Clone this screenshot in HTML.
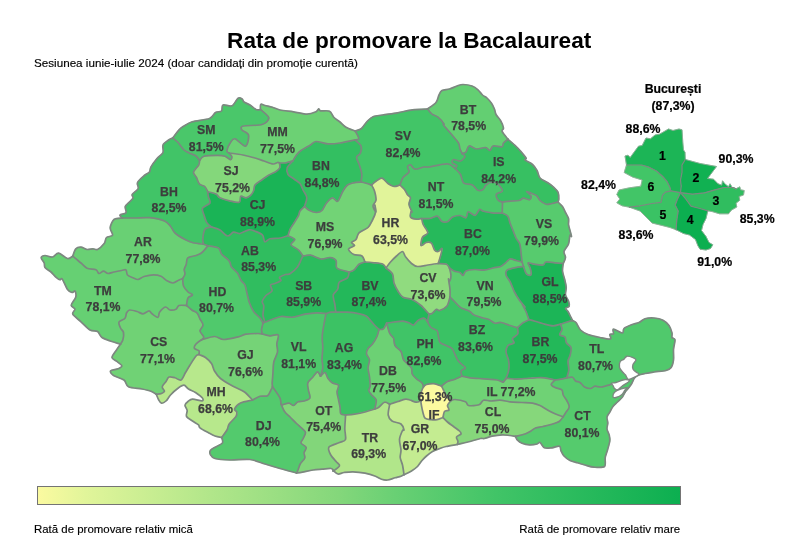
<!DOCTYPE html>
<html lang="ro"><head><meta charset="utf-8"><title>Rata de promovare la Bacalaureat</title>
<style>
html,body{margin:0;padding:0;background:#fff}
body{width:800px;height:554px;position:relative;overflow:hidden;font-family:"Liberation Sans",sans-serif}
h1{position:absolute;left:0;top:26.5px;width:818.4px;margin:0;text-align:center;font:bold 22.6px/28px "Liberation Sans",sans-serif;color:#000}
.sub{position:absolute;left:34px;top:55.5px;font:10.9px/14px "Liberation Sans",sans-serif;color:#000;white-space:nowrap;transform-origin:0 0;transform:scaleX(1.07);-webkit-text-stroke:.15px #000}
#map{position:absolute;left:0;top:0}
.lbl text{font:bold 12.3px "Liberation Sans",sans-serif;fill:#3d3d3d;stroke:#3d3d3d;stroke-width:.25px}
.blk text{font:bold 12.3px "Liberation Sans",sans-serif;fill:#000;stroke:#000;stroke-width:.2px}
.bar{position:absolute;left:36.5px;top:486px;width:644px;height:18.5px;border:1.8px solid #747474;box-sizing:border-box;background:linear-gradient(90deg,#fbfaa0 0%,#e1f59a 7.4%,#b1e68a 27%,#84d77b 46.8%,#69d074 55.6%,#41c467 71.4%,#1ab456 93%,#0caf50 100%)}
.lg{position:absolute;top:521.5px;font:10.9px/14px "Liberation Sans",sans-serif;color:#000;white-space:nowrap;-webkit-text-stroke:.15px #000}
.lg.l{left:34px;transform-origin:0 0;transform:scaleX(1.05)}
.lg.r{right:119.5px;transform-origin:100% 0;transform:scaleX(1.05)}
</style></head><body>
<h1>Rata de promovare la Bacalaureat</h1>
<div class="sub">Sesiunea iunie-iulie 2024 (doar candidați din promoție curentă)</div>
<svg id="map" width="800" height="554" viewBox="0 0 800 554">
<g stroke-linejoin="round">
<path d="M203.5 244.2C203.4 243.4 202.6 241.3 202.8 239.0C203.0 236.7 203.6 231.0 205.0 229.2C206.4 227.4 210.7 227.3 211.7 227.0C213.0 227.5 217.6 228.6 220.0 230.0C222.4 231.4 225.4 235.7 227.5 236.0C229.6 236.3 231.6 232.6 233.5 232.2C235.4 231.8 237.6 233.9 240.0 233.5C242.4 233.1 246.7 230.2 249.0 229.8C251.3 229.4 252.9 230.4 255.0 231.2C257.1 232.0 261.0 233.4 262.5 235.0C264.0 236.6 263.6 241.2 264.8 241.8C266.0 242.4 267.6 239.4 270.0 238.8C272.4 238.2 277.7 238.5 280.5 238.0C283.3 237.5 286.8 236.1 288.0 235.7C289.0 236.3 294.3 238.1 294.8 239.5C295.3 240.9 290.4 243.2 291.0 244.8C291.6 246.4 296.7 248.3 298.5 250.0C300.3 251.7 302.3 255.1 303.0 256.0C302.7 256.5 302.0 257.8 301.2 259.5C300.4 261.2 299.2 264.8 297.5 267.0C295.8 269.2 291.8 272.6 290.0 273.8C288.2 275.0 287.1 273.9 285.5 274.5C283.9 275.1 280.2 276.6 279.5 277.5C278.8 278.4 281.7 279.6 281.0 280.5C280.3 281.4 276.6 282.8 275.0 283.5C273.4 284.2 271.0 283.8 270.5 285.0C270.0 286.2 272.7 289.4 272.0 291.0C271.3 292.6 267.5 293.9 266.0 295.5C264.5 297.1 262.5 299.9 262.2 301.5C261.9 303.1 263.7 303.9 263.8 306.0C263.9 308.1 262.9 312.7 263.0 315.0C263.1 317.3 264.5 319.8 264.5 321.0C264.5 322.2 263.2 322.7 263.0 323.0C262.5 322.2 261.4 319.7 260.0 318.0C258.6 316.3 255.6 314.3 254.0 312.0C252.4 309.7 250.5 305.8 249.5 303.0C248.5 300.2 247.9 296.8 247.2 294.0C246.5 291.2 245.9 287.1 245.0 285.0C244.1 282.9 242.4 282.3 241.2 280.5C240.0 278.7 239.0 275.1 237.5 273.0C236.0 270.9 232.7 268.6 231.5 267.0C230.3 265.4 230.6 263.7 230.0 262.5C229.4 261.3 228.8 260.5 227.5 259.2C226.2 257.9 222.9 255.7 221.5 254.0C220.1 252.3 220.6 249.3 218.5 248.0C216.4 246.7 209.6 246.1 208.0 245.7L203.5 244.2Z" fill="#30bd5f" stroke="#30bd5f" stroke-width="0.6"/>
<path d="M326.0 313.5C325.4 316.8 322.8 329.8 322.3 335.0C321.8 340.2 322.8 343.3 322.8 347.0C322.8 350.7 322.0 355.8 322.0 359.0C322.0 362.2 323.0 365.4 322.8 368.0C322.6 370.6 320.9 374.9 320.5 376.2C321.2 375.6 323.8 372.1 325.0 372.5C326.2 372.9 326.8 376.9 328.0 378.5C329.2 380.1 330.9 382.0 332.5 383.0C334.1 384.0 337.8 383.8 338.5 385.2C339.2 386.6 337.0 389.8 337.0 392.0C337.0 394.2 338.0 397.2 338.5 399.5C339.0 401.8 339.6 404.8 340.0 407.0C340.4 409.2 339.9 412.6 340.8 413.8C341.7 415.0 344.9 414.8 345.6 415.0C347.0 414.9 351.5 414.7 354.5 414.2C357.5 413.7 361.9 412.8 365.0 412.0C368.1 411.2 373.2 409.5 374.7 409.0C374.9 407.6 376.7 402.2 376.2 400.0C375.7 397.8 372.8 396.5 371.7 395.0C370.6 393.5 369.0 391.9 368.8 390.5C368.6 389.1 370.1 388.1 370.2 386.0C370.3 383.9 369.8 379.8 369.5 377.0C369.2 374.2 368.0 370.6 368.0 368.0C368.0 365.4 369.7 362.0 369.5 359.8C369.3 357.6 366.7 355.5 366.5 353.8C366.3 352.1 367.1 350.0 368.0 348.5C368.9 347.0 371.1 345.8 372.5 344.0C373.9 342.2 376.0 338.7 377.0 336.5C378.0 334.3 378.7 330.6 379.0 329.5C378.3 328.8 375.9 326.5 374.5 325.0C373.1 323.5 371.3 321.2 370.0 319.8C368.7 318.4 367.8 316.9 366.2 316.0C364.6 315.1 362.4 314.4 359.5 313.8C356.6 313.2 351.1 312.4 347.5 312.2C343.9 312.0 337.6 312.2 335.8 312.2C335.1 312.2 332.5 312.0 331.0 312.2C329.5 312.4 326.8 313.3 326.0 313.5Z" fill="#3cc264" stroke="#3cc264" stroke-width="0.6"/>
<path d="M72.7 256.2C73.2 255.1 74.5 250.2 75.8 248.8C77.1 247.4 79.3 247.1 81.0 247.2C82.7 247.3 85.2 249.3 87.0 249.5C88.8 249.7 91.4 248.8 93.0 248.8C94.6 248.8 95.8 250.3 97.5 249.5C99.2 248.7 102.8 245.3 104.2 243.5C105.6 241.7 105.2 238.8 106.5 237.5C107.8 236.2 111.9 236.7 112.5 235.2C113.1 233.7 110.0 230.2 110.2 227.8C110.4 225.4 112.2 221.0 114.0 219.5C115.8 218.0 120.9 218.2 122.2 218.0C124.1 218.0 130.3 218.0 134.5 218.0C138.7 218.0 144.9 217.2 149.5 217.7C154.1 218.2 161.3 219.7 164.5 221.0C167.7 222.3 168.9 224.4 170.5 226.2C172.1 228.0 172.7 230.9 175.0 233.0C177.3 235.1 182.7 238.3 185.5 239.8C188.3 241.3 190.2 242.1 193.0 242.8C195.8 243.5 201.9 244.0 203.5 244.2L208.0 245.7C207.1 246.7 203.8 251.0 202.0 252.5C200.2 254.0 198.2 254.7 196.0 255.5C193.8 256.3 189.3 256.4 187.8 257.8C186.3 259.2 186.8 262.7 186.2 264.5C185.6 266.3 184.4 268.0 184.2 269.5C184.0 271.0 185.2 272.6 185.0 274.0C184.8 275.4 183.1 277.8 182.7 278.5C182.1 278.7 180.5 279.3 179.0 280.0C177.5 280.7 174.8 282.9 173.0 283.0C171.2 283.1 168.8 281.8 167.0 280.8C165.2 279.8 163.1 277.1 161.0 276.2C158.9 275.3 156.1 274.8 153.5 274.8C150.9 274.8 146.4 275.8 144.0 276.5C141.6 277.2 139.6 279.3 138.0 279.5C136.4 279.7 135.1 278.7 133.5 278.0C131.9 277.3 128.7 276.3 127.5 275.0C126.3 273.7 126.9 270.5 126.0 269.8C125.1 269.1 123.3 270.2 121.5 270.5C119.7 270.8 116.1 271.5 114.0 272.0C111.9 272.5 109.6 273.6 108.0 273.5C106.4 273.4 104.9 271.2 103.5 271.2C102.1 271.2 100.2 273.7 99.0 273.5C97.8 273.3 97.8 270.6 96.0 269.8C94.2 269.0 89.3 269.2 87.0 268.2C84.7 267.2 83.2 264.8 81.0 263.0C78.8 261.2 74.0 257.2 72.7 256.2Z" fill="#69d074" stroke="#69d074" stroke-width="0.6"/>
<path d="M421.7 218.5C423.0 218.5 427.6 218.9 430.0 218.5C432.4 218.1 435.7 215.7 437.5 216.2C439.3 216.7 440.4 220.7 442.0 221.5C443.6 222.3 446.4 222.2 448.0 221.5C449.6 220.8 450.7 217.9 452.5 217.0C454.3 216.1 457.9 215.4 460.0 215.5C462.1 215.6 464.7 218.4 466.0 217.8C467.3 217.2 466.8 212.2 468.2 211.8C469.6 211.4 473.3 215.9 475.0 215.5C476.7 215.1 478.3 210.2 479.5 209.5C480.7 208.8 480.9 210.5 482.5 211.0C484.1 211.5 487.9 212.2 490.0 212.5C492.1 212.8 494.1 213.1 496.0 213.2C497.9 213.3 501.2 213.0 502.2 213.0C503.1 213.5 506.6 214.7 507.8 216.2C509.0 217.7 509.2 220.8 510.0 223.0C510.8 225.2 512.1 228.2 513.0 230.5C513.9 232.8 515.0 235.9 516.0 238.0C517.0 240.1 519.0 241.5 519.8 244.0C520.6 246.5 520.9 251.7 521.2 254.5C521.5 257.3 521.9 260.8 522.0 262.0C521.1 261.8 517.8 261.0 516.0 260.5C514.2 260.0 511.6 258.6 510.0 259.0C508.4 259.4 507.0 261.6 505.5 262.8C504.0 264.0 502.4 265.7 500.5 266.5C498.6 267.3 495.5 267.4 493.0 268.0C490.5 268.6 486.8 270.0 484.0 270.2C481.2 270.4 477.8 269.4 475.0 269.5C472.2 269.6 467.8 270.1 466.0 271.0C464.2 271.9 463.9 275.3 463.0 275.5C462.1 275.7 461.4 273.2 460.0 272.5C458.6 271.8 455.6 271.7 454.0 271.0C452.4 270.3 450.2 268.5 449.5 268.0C449.0 267.4 448.2 264.9 446.5 264.2C444.8 263.5 439.5 263.6 438.2 263.5C438.6 262.3 439.9 258.3 440.5 256.0C441.1 253.7 442.4 249.2 442.0 248.5C441.6 247.8 439.4 251.3 438.2 251.5C437.0 251.7 435.5 251.3 434.5 250.0C433.5 248.7 432.8 244.4 431.5 243.2C430.2 242.0 427.8 242.1 426.2 242.5C424.6 242.9 421.6 246.3 421.0 245.5C420.4 244.7 421.5 239.2 422.5 237.2C423.5 235.2 427.7 234.8 427.8 232.8C427.9 230.8 424.1 226.7 423.2 224.5C422.3 222.3 421.9 219.4 421.7 218.5Z" fill="#26b95b" stroke="#26b95b" stroke-width="0.6"/>
<path d="M122.2 218.0C121.9 217.5 119.4 215.8 120.0 215.0C120.6 214.2 125.2 214.1 126.0 212.8C126.8 211.5 124.9 208.2 125.2 206.8C125.5 205.4 126.6 204.8 127.8 203.5C129.0 202.2 132.3 199.6 133.0 198.2C133.7 196.8 131.4 196.0 132.2 194.5C133.0 193.0 137.4 190.3 138.2 188.5C139.0 186.7 136.5 184.6 137.5 182.5C138.5 180.4 143.2 176.6 145.0 175.0C146.8 173.4 148.6 173.3 149.5 172.0C150.4 170.7 149.8 168.9 151.0 166.8C152.2 164.7 155.2 160.7 157.0 158.5C158.8 156.3 162.1 154.6 163.0 152.5C163.9 150.4 162.1 147.0 163.0 145.0C163.9 143.0 167.5 140.9 169.0 139.8C170.5 138.7 172.1 138.3 172.7 138.0C173.5 138.7 176.3 140.7 178.0 142.5C179.7 144.3 182.3 148.4 184.0 150.0C185.7 151.6 187.4 152.1 189.2 153.0C191.0 153.9 194.4 154.9 196.0 156.0C197.6 157.1 199.0 159.7 199.6 160.4C199.5 161.1 199.7 163.0 198.8 164.8C197.9 166.6 193.9 170.2 193.5 172.2C193.1 174.2 195.6 175.7 196.5 177.5C197.4 179.3 198.2 182.8 199.5 184.2C200.8 185.6 203.5 185.3 204.8 186.5C206.1 187.7 207.3 190.9 207.7 191.7C207.8 192.5 208.1 195.3 208.5 197.0C208.9 198.7 210.9 201.3 210.0 203.0C209.1 204.7 203.4 206.4 202.5 208.2C201.6 210.0 203.3 212.7 204.0 215.0C204.7 217.3 205.8 221.1 207.0 222.9C208.2 224.7 211.0 226.4 211.7 227.0C210.7 227.3 206.4 227.4 205.0 229.2C203.6 231.0 203.0 236.7 202.8 239.0C202.6 241.3 203.4 243.4 203.5 244.2C201.9 244.0 195.8 243.5 193.0 242.8C190.2 242.1 188.3 241.3 185.5 239.8C182.7 238.3 177.3 235.1 175.0 233.0C172.7 230.9 172.1 228.0 170.5 226.2C168.9 224.4 167.7 222.3 164.5 221.0C161.3 219.7 154.1 218.2 149.5 217.7C144.9 217.2 138.7 218.0 134.5 218.0C130.3 218.0 124.1 218.0 122.2 218.0Z" fill="#41c467" stroke="#41c467" stroke-width="0.6"/>
<path d="M292.7 161.0C293.3 160.1 295.2 156.6 296.5 155.0C297.8 153.4 298.9 152.0 301.0 150.5C303.1 149.0 307.7 146.6 310.0 145.2C312.3 143.8 313.2 141.7 316.0 141.5C318.8 141.3 324.3 143.6 328.0 143.8C331.7 144.0 335.8 143.6 340.0 143.0C344.2 142.4 352.7 140.5 355.0 140.0C355.9 140.9 360.2 143.9 361.0 146.0C361.8 148.1 360.9 151.8 360.2 153.5C359.5 155.2 356.6 155.4 356.5 157.2C356.4 159.0 358.7 162.8 359.5 165.5C360.3 168.2 361.6 172.0 361.8 174.5C362.0 177.0 361.1 180.8 361.0 182.0C359.8 182.1 355.6 182.3 353.5 182.8C351.4 183.3 349.1 183.7 347.5 185.0C345.9 186.3 344.3 188.8 343.0 191.0C341.7 193.2 340.1 197.6 339.2 199.2C338.3 200.8 338.0 201.7 337.0 201.5C336.0 201.3 334.1 197.6 332.5 197.8C330.9 198.0 328.1 201.0 326.5 203.0C324.9 205.0 323.5 209.0 322.0 210.5C320.5 212.0 318.5 212.5 316.5 212.5C314.5 212.5 310.8 211.1 309.0 210.2C307.2 209.3 305.2 207.1 304.5 206.5C304.9 205.1 307.0 200.0 306.8 197.5C306.6 195.0 304.0 192.2 303.0 190.0C302.0 187.8 301.4 185.2 300.0 183.5C298.6 181.8 295.8 180.4 294.0 179.0C292.2 177.6 289.0 176.2 288.0 174.5C287.0 172.8 286.5 169.9 287.2 167.8C287.9 165.7 291.9 162.0 292.7 161.0Z" fill="#33bf61" stroke="#33bf61" stroke-width="0.6"/>
<path d="M517.5 327.7C518.3 326.9 521.2 324.0 523.0 322.8C524.8 321.6 528.1 320.2 529.0 319.7C529.9 319.9 532.9 320.6 535.0 321.2C537.1 321.8 539.7 322.8 542.5 323.5C545.3 324.2 550.2 325.7 553.0 325.8C555.8 325.9 559.3 324.4 560.5 324.2C560.7 325.0 562.1 327.9 562.0 329.5C561.9 331.1 559.3 333.6 559.8 334.8C560.3 336.0 564.0 335.7 565.0 337.0C566.0 338.3 565.6 341.4 566.5 343.0C567.4 344.6 570.4 345.7 571.0 347.5C571.6 349.3 570.7 352.9 570.2 355.0C569.7 357.1 568.2 358.7 568.0 361.0C567.8 363.3 569.0 367.4 568.8 370.0C568.6 372.6 567.1 376.6 566.8 377.8C565.9 378.0 562.8 378.9 561.0 379.2C559.2 379.5 555.9 379.9 555.0 380.0C553.4 379.7 547.5 378.1 544.5 377.8C541.5 377.5 538.5 377.7 535.5 377.8C532.5 377.9 528.2 378.3 525.0 378.5C521.8 378.7 517.3 379.2 514.5 379.2C511.7 379.2 508.7 378.0 507.0 378.5C505.3 379.0 503.8 381.6 503.2 382.2C503.8 381.2 506.1 378.2 507.0 376.0C507.9 373.8 508.8 370.5 509.0 368.0C509.2 365.5 509.0 362.5 508.5 360.0C508.0 357.5 506.1 354.2 506.0 352.0C505.9 349.8 506.8 346.9 508.0 345.5C509.2 344.1 513.3 344.1 514.0 343.0C514.7 341.9 511.9 339.9 512.5 338.5C513.1 337.1 516.9 335.7 517.7 334.0C518.5 332.3 517.5 328.7 517.5 327.7Z" fill="#23b859" stroke="#23b859" stroke-width="0.6"/>
<path d="M427.5 109.0C428.8 108.0 434.2 104.7 436.0 102.5C437.8 100.3 438.1 96.8 439.0 95.0C439.9 93.2 440.4 91.4 442.0 90.5C443.6 89.6 447.2 89.7 449.5 89.0C451.8 88.3 454.9 86.7 457.0 86.0C459.1 85.3 460.7 84.5 463.0 84.5C465.3 84.5 469.7 85.2 472.0 86.0C474.3 86.8 476.4 88.4 478.0 89.8C479.6 91.2 481.1 93.7 482.5 95.0C483.9 96.3 485.6 96.7 487.0 98.0C488.4 99.3 490.3 101.5 491.5 103.2C492.7 104.9 493.8 107.5 494.5 109.2C495.2 110.9 495.1 112.8 496.0 114.5C496.9 116.2 499.3 118.4 500.5 120.5C501.7 122.6 503.3 126.4 503.5 128.0C503.7 129.6 501.8 129.8 502.0 131.0C502.2 132.2 504.1 134.2 505.0 135.5C505.9 136.8 507.5 138.6 508.0 139.2C507.3 139.8 504.4 141.8 503.5 143.0C502.6 144.2 503.6 146.3 502.0 146.8C500.4 147.3 494.8 145.4 493.0 146.0C491.2 146.6 491.2 150.3 490.0 150.5C488.8 150.7 487.6 147.7 485.5 147.5C483.4 147.3 479.0 149.2 476.5 149.0C474.0 148.8 470.6 145.5 469.0 146.0C467.4 146.5 467.0 150.8 466.0 152.0C465.0 153.2 462.8 153.3 462.2 153.5C461.9 152.8 460.6 150.6 460.0 149.0C459.4 147.4 459.7 145.1 458.5 143.0C457.3 140.9 454.8 138.3 452.5 135.5C450.2 132.7 444.8 126.8 443.5 125.0C442.2 123.2 444.8 125.2 444.0 124.0C443.2 122.8 439.8 118.7 438.0 117.2C436.2 115.7 433.6 115.5 432.0 114.2C430.4 112.9 428.2 109.8 427.5 109.0Z" fill="#63cf72" stroke="#63cf72" stroke-width="0.6"/>
<path d="M365.0 262.0C366.4 262.1 371.2 262.5 374.0 262.8C376.8 263.1 381.2 263.4 383.0 264.2C384.8 265.0 385.5 267.4 386.0 268.0C387.0 268.9 391.3 271.7 392.5 274.0C393.7 276.3 393.1 280.2 394.0 283.0C394.9 285.8 397.1 289.8 398.5 292.0C399.9 294.2 400.9 296.0 403.0 297.2C405.1 298.4 409.2 298.2 412.0 299.5C414.8 300.8 418.4 303.2 421.0 305.5C423.6 307.8 427.8 312.9 429.0 314.2L427.5 321.7C427.0 321.2 425.5 318.4 424.0 318.2C422.5 318.0 419.6 319.5 418.0 320.5C416.4 321.5 414.9 324.6 413.5 325.0C412.1 325.4 410.6 323.4 409.0 322.8C407.4 322.2 405.3 321.3 403.0 321.2C400.7 321.1 396.5 321.7 394.0 322.0C391.5 322.3 387.7 323.0 386.6 323.2C386.1 324.1 384.7 327.8 383.5 328.8C382.3 329.8 379.7 329.4 379.0 329.5C378.3 328.8 375.9 326.5 374.5 325.0C373.1 323.5 371.3 321.2 370.0 319.8C368.7 318.4 367.8 316.9 366.2 316.0C364.6 315.1 362.4 314.4 359.5 313.8C356.6 313.2 351.1 312.4 347.5 312.2C343.9 312.0 337.6 312.2 335.8 312.2C335.6 310.9 335.2 306.6 334.8 304.0C334.4 301.4 332.7 297.3 333.2 295.0C333.7 292.7 336.9 291.0 337.8 289.0C338.7 287.0 337.7 283.9 339.2 282.2C340.7 280.5 346.0 279.4 347.5 277.8C349.0 276.2 348.9 272.9 349.2 272.0C349.9 271.7 352.3 271.4 353.8 270.2C355.3 269.0 357.3 265.5 359.0 264.2C360.7 262.9 364.1 262.3 365.0 262.0Z" fill="#23b85a" stroke="#23b85a" stroke-width="0.6"/>
<path d="M427.5 321.7L429.0 314.2C429.5 314.1 430.8 314.3 432.0 313.5C433.2 312.7 435.3 309.8 436.5 309.3C437.7 308.8 437.9 311.0 439.5 310.5C441.1 310.0 445.4 308.1 447.0 306.0C448.6 303.9 449.5 298.4 450.0 297.0C450.7 297.7 452.9 299.9 454.5 301.5C456.1 303.1 458.2 306.0 460.5 307.5C462.8 309.0 467.4 310.0 469.5 311.2C471.6 312.4 471.9 314.0 474.0 315.0C476.1 316.0 480.7 317.3 483.0 318.0C485.3 318.7 487.2 318.7 489.0 319.5C490.8 320.3 493.2 322.7 495.0 323.2C496.8 323.7 498.7 322.1 501.0 322.5C503.3 322.9 507.5 324.7 510.0 325.5C512.5 326.3 516.3 327.4 517.5 327.7C517.5 328.7 518.5 332.3 517.7 334.0C516.9 335.7 513.1 337.1 512.5 338.5C511.9 339.9 514.7 341.9 514.0 343.0C513.3 344.1 509.2 344.1 508.0 345.5C506.8 346.9 505.9 349.8 506.0 352.0C506.1 354.2 508.0 357.5 508.5 360.0C509.0 362.5 509.2 365.5 509.0 368.0C508.8 370.5 507.9 373.8 507.0 376.0C506.1 378.2 503.8 381.2 503.2 382.2C502.2 381.9 499.3 380.5 497.0 380.0C494.7 379.5 490.8 379.4 488.0 379.2C485.2 379.0 481.8 378.7 479.0 378.5C476.2 378.3 472.6 378.2 470.0 377.8C467.4 377.4 463.2 376.4 462.0 376.2C461.8 375.4 460.5 372.3 461.0 371.0C461.5 369.7 465.3 368.9 465.5 368.0C465.7 367.1 463.7 366.2 462.5 365.0C461.3 363.8 459.2 362.1 458.0 360.5C456.8 358.9 455.9 356.3 455.0 354.5C454.1 352.7 453.4 349.9 452.0 348.5C450.6 347.1 447.8 346.4 446.0 345.5C444.2 344.6 441.2 343.9 440.0 342.5C438.8 341.1 439.0 338.3 438.5 336.5C438.0 334.7 438.2 331.9 437.0 330.5C435.8 329.1 432.5 328.9 431.0 327.5C429.5 326.1 428.0 322.6 427.5 321.7Z" fill="#3ac264" stroke="#3ac264" stroke-width="0.6"/>
<path d="M279.5 163.0C280.5 163.0 284.0 163.1 286.0 162.8C288.0 162.5 291.7 161.3 292.7 161.0C291.9 162.0 287.9 165.7 287.2 167.8C286.5 169.9 287.0 172.8 288.0 174.5C289.0 176.2 292.2 177.6 294.0 179.0C295.8 180.4 298.6 181.8 300.0 183.5C301.4 185.2 302.0 187.8 303.0 190.0C304.0 192.2 306.6 195.0 306.8 197.5C307.0 200.0 304.9 205.1 304.5 206.5C303.8 207.2 300.9 209.6 300.0 211.0C299.1 212.4 299.4 213.7 298.5 215.5C297.6 217.3 295.3 220.9 294.0 223.0C292.7 225.1 291.1 227.0 290.2 229.0C289.3 231.0 288.3 234.7 288.0 235.7C286.8 236.1 283.3 237.5 280.5 238.0C277.7 238.5 272.4 238.2 270.0 238.8C267.6 239.4 266.0 242.4 264.8 241.8C263.6 241.2 264.0 236.6 262.5 235.0C261.0 233.4 257.1 232.0 255.0 231.2C252.9 230.4 251.3 229.4 249.0 229.8C246.7 230.2 242.4 233.1 240.0 233.5C237.6 233.9 235.4 231.8 233.5 232.2C231.6 232.6 229.6 236.3 227.5 236.0C225.4 235.7 222.4 231.4 220.0 230.0C217.6 228.6 213.0 227.5 211.7 227.0C211.0 226.4 208.2 224.7 207.0 222.9C205.8 221.1 204.7 217.3 204.0 215.0C203.3 212.7 201.6 210.0 202.5 208.2C203.4 206.4 209.1 204.7 210.0 203.0C210.9 201.3 208.9 198.7 208.5 197.0C208.1 195.3 207.8 192.5 207.7 191.7C209.0 192.1 214.1 193.1 216.0 194.0C217.9 194.9 217.7 196.8 219.8 197.8C221.9 198.8 226.5 200.1 229.5 200.8C232.5 201.5 237.5 202.9 239.2 202.2C240.9 201.5 239.8 196.9 240.8 196.2C241.8 195.5 244.5 197.9 246.0 197.8C247.5 197.7 249.3 196.5 250.5 195.5C251.7 194.5 252.8 192.6 253.5 191.0C254.2 189.4 253.8 186.6 255.0 185.0C256.2 183.4 258.9 182.0 261.0 180.5C263.1 179.0 266.2 176.6 268.5 175.2C270.8 173.8 274.3 172.6 276.0 171.5C277.7 170.4 279.3 169.1 279.8 167.8C280.3 166.5 279.5 163.7 279.5 163.0Z" fill="#1ab456" stroke="#1ab456" stroke-width="0.6"/>
<path d="M515.5 436.4C514.7 436.3 512.0 435.7 510.0 435.5C508.0 435.3 505.3 434.7 502.5 434.8C499.7 434.9 494.8 435.6 492.0 436.2C489.2 436.8 486.3 438.1 484.5 438.5C482.7 438.9 482.7 438.0 480.5 438.5C478.3 439.0 473.6 440.6 470.0 441.5C466.4 442.4 459.2 444.0 457.2 444.5C457.3 444.0 458.1 442.7 458.0 441.5C457.9 440.3 456.0 438.2 456.5 437.0C457.0 435.8 460.5 434.9 461.0 434.0C461.5 433.1 460.7 432.2 459.5 431.0C458.3 429.8 455.3 427.9 453.5 426.5C451.7 425.1 449.1 423.4 447.5 422.0C445.9 420.6 443.7 418.2 443.0 417.5C443.2 416.6 443.6 412.7 444.5 411.5C445.4 410.3 448.5 410.9 449.0 410.0C449.5 409.1 447.3 406.9 447.5 405.5C447.7 404.1 450.0 401.7 450.5 401.0C451.2 400.8 452.7 399.4 455.0 399.5C457.3 399.6 463.4 400.9 465.5 401.8C467.6 402.7 466.4 405.0 468.5 405.5C470.6 406.0 476.7 405.6 479.0 404.8C481.3 404.0 481.7 400.8 483.5 400.2C485.3 399.6 488.5 401.0 491.0 401.0C493.5 401.0 497.1 400.1 500.0 400.2C502.9 400.3 506.6 401.4 510.0 401.8C513.4 402.2 518.5 402.3 522.0 402.5C525.5 402.7 529.7 402.7 532.5 403.2C535.3 403.7 537.7 404.5 540.0 405.5C542.3 406.5 545.2 408.7 547.5 410.0C549.8 411.3 552.6 412.8 555.0 413.8C557.4 414.8 561.9 416.3 563.2 416.7C562.6 417.4 561.2 420.0 559.5 421.2C557.8 422.4 554.5 423.4 552.0 424.2C549.5 425.0 545.5 425.9 543.0 426.5C540.5 427.1 537.3 427.3 535.5 428.0C533.7 428.7 532.6 430.1 531.0 431.0C529.4 431.9 527.4 433.2 525.0 434.0C522.6 434.8 517.0 436.0 515.5 436.4Z" fill="#86d77b" stroke="#86d77b" stroke-width="0.6"/>
<path d="M156.2 394.2C155.4 393.7 153.2 392.0 151.0 391.2C148.8 390.4 145.5 389.7 142.0 389.0C138.5 388.3 131.3 388.2 128.5 386.8C125.7 385.4 126.3 381.7 124.0 380.0C121.7 378.3 115.6 376.9 113.5 375.5C111.4 374.1 109.8 372.0 110.5 371.0C111.2 370.0 116.3 369.6 118.0 368.8C119.7 368.0 122.0 367.0 121.8 365.8C121.6 364.6 118.0 362.5 116.5 361.2C115.0 359.9 112.0 359.2 112.0 357.5C112.0 355.8 115.2 352.0 116.5 350.0C117.8 348.0 119.9 345.1 120.5 344.2C120.9 343.6 122.3 341.8 122.8 340.0C123.3 338.2 123.9 334.3 123.5 332.5C123.1 330.7 121.2 329.6 120.5 328.0C119.8 326.4 118.3 323.5 119.0 322.0C119.7 320.5 123.8 319.6 125.0 318.2C126.2 316.8 125.8 314.3 126.5 313.0C127.2 311.7 127.9 310.2 129.5 310.0C131.1 309.8 134.9 310.9 137.0 311.5C139.1 312.1 141.2 313.9 143.0 313.8C144.8 313.7 147.6 310.8 149.0 310.8C150.4 310.8 150.6 312.8 152.0 313.8C153.4 314.8 156.8 317.7 158.0 317.5C159.2 317.3 158.3 313.8 159.5 312.2C160.7 310.6 163.9 307.3 165.5 307.0C167.1 306.7 168.4 309.7 170.0 310.0C171.6 310.3 174.6 309.9 176.0 309.2C177.4 308.5 177.4 306.1 179.0 305.5C180.6 304.9 185.3 305.5 186.5 305.5C187.3 306.2 190.2 308.8 191.8 310.0C193.4 311.2 195.7 311.6 197.0 313.0C198.3 314.4 199.1 317.2 200.0 319.0C200.9 320.8 203.0 323.2 203.0 325.0C203.0 326.8 199.9 329.2 200.0 331.0C200.1 332.8 203.6 335.6 203.8 337.0C204.0 338.4 201.9 339.4 201.6 339.8C200.7 340.4 197.1 342.7 196.0 344.0C194.9 345.3 194.0 347.5 194.5 348.5C195.0 349.5 198.3 349.9 199.0 350.8C199.7 351.7 199.0 353.9 199.0 354.5C198.5 354.7 197.4 354.4 196.0 356.0C194.6 357.6 191.6 362.5 190.0 365.0C188.4 367.5 186.9 370.2 185.5 372.5C184.1 374.8 182.6 379.2 181.0 380.0C179.4 380.8 176.8 378.3 175.0 377.8C173.2 377.3 170.4 376.4 169.0 377.0C167.6 377.6 167.0 380.0 166.0 381.5C165.0 383.0 162.4 385.3 162.2 386.8C162.0 388.3 164.6 390.2 164.5 391.2C164.4 392.2 162.8 393.0 161.5 393.5C160.2 394.0 157.0 394.1 156.2 394.2Z" fill="#70d275" stroke="#70d275" stroke-width="0.6"/>
<path d="M625.0 392.2C624.5 393.0 623.2 396.0 622.0 397.5C620.8 399.0 618.9 400.6 617.5 402.0C616.1 403.4 614.2 405.0 613.0 406.5C611.8 408.0 610.9 410.2 610.0 411.8C609.1 413.4 607.3 415.3 607.0 417.0C606.7 418.7 607.8 421.2 607.8 423.0C607.8 424.8 606.8 427.2 607.0 429.0C607.2 430.8 608.8 433.2 609.2 435.0C609.6 436.8 610.1 438.7 609.8 441.0C609.5 443.3 608.2 447.5 607.5 450.0C606.8 452.5 605.7 455.0 605.2 457.5C604.7 460.0 606.2 465.0 604.5 466.5C602.8 468.0 597.0 467.4 594.0 467.2C591.0 467.0 587.5 465.7 585.0 465.0C582.5 464.3 579.8 463.5 577.5 462.8C575.2 462.1 572.1 461.5 570.0 460.5C567.9 459.5 565.4 457.5 564.0 456.0C562.6 454.5 561.7 452.3 561.0 450.8C560.3 449.3 560.9 446.7 559.5 446.2C558.1 445.7 554.3 447.6 552.0 447.8C549.7 448.0 546.3 448.6 544.5 447.8C542.7 447.0 541.2 443.1 540.0 442.5C538.8 441.9 538.6 443.6 537.0 444.0C535.4 444.4 531.8 444.9 529.5 444.8C527.2 444.7 523.8 443.9 522.0 443.2C520.2 442.5 518.5 441.2 517.5 440.2C516.5 439.2 515.8 437.0 515.5 436.4C517.0 436.0 522.6 434.8 525.0 434.0C527.4 433.2 529.4 431.9 531.0 431.0C532.6 430.1 533.7 428.7 535.5 428.0C537.3 427.3 540.5 427.1 543.0 426.5C545.5 425.9 549.5 425.0 552.0 424.2C554.5 423.4 557.8 422.4 559.5 421.2C561.2 420.0 562.6 417.4 563.2 416.7C563.6 416.1 564.6 414.5 565.5 413.0C566.4 411.5 569.0 408.8 569.2 407.0C569.4 405.2 567.9 402.8 567.0 401.0C566.1 399.2 564.0 396.7 563.2 395.0C562.4 393.3 563.1 391.0 561.8 389.8C560.5 388.6 556.6 388.3 555.0 387.5C553.4 386.7 551.2 385.7 551.2 384.5C551.2 383.3 554.4 380.7 555.0 380.0C555.9 379.9 559.2 379.5 561.0 379.2C562.8 378.9 565.9 378.0 566.8 377.8C567.7 377.7 571.2 376.7 572.5 377.2C573.8 377.7 574.3 380.2 575.5 381.0C576.7 381.8 578.6 381.6 580.0 382.5C581.4 383.4 582.9 386.1 584.5 387.0C586.1 387.9 588.9 388.6 590.5 388.5C592.1 388.4 593.4 386.4 595.0 386.2C596.6 386.0 598.7 387.2 601.0 387.0C603.3 386.8 608.3 385.3 610.0 384.8C611.7 384.3 611.0 383.5 612.2 384.0C613.4 384.5 616.0 386.7 618.0 388.0C620.0 389.3 623.9 391.6 625.0 392.2Z" fill="#55cb6d" stroke="#55cb6d" stroke-width="0.6"/>
<path d="M438.2 263.5C439.5 263.6 444.8 263.5 446.5 264.2C448.2 264.9 449.0 267.4 449.5 268.0C449.7 269.2 451.0 273.4 451.0 275.5C451.0 277.6 449.9 281.0 449.5 281.5C449.1 282.0 448.4 277.8 448.5 279.0C448.6 280.2 449.8 286.7 450.0 289.5C450.2 292.3 450.0 295.8 450.0 297.0C449.5 298.4 448.6 303.9 447.0 306.0C445.4 308.1 441.1 310.0 439.5 310.5C437.9 311.0 437.7 308.8 436.5 309.3C435.3 309.8 433.2 312.7 432.0 313.5C430.8 314.3 429.5 314.1 429.0 314.2C427.8 312.9 423.6 307.8 421.0 305.5C418.4 303.2 414.8 300.8 412.0 299.5C409.2 298.2 405.1 298.4 403.0 297.2C400.9 296.0 399.9 294.2 398.5 292.0C397.1 289.8 394.9 285.8 394.0 283.0C393.1 280.2 393.7 276.3 392.5 274.0C391.3 271.7 387.0 268.9 386.0 268.0C386.7 267.1 388.9 263.8 390.5 262.0C392.1 260.2 394.7 257.6 396.5 256.0C398.3 254.4 401.1 251.4 402.5 251.5C403.9 251.6 404.1 255.0 405.5 256.8C406.9 258.6 409.7 262.0 411.5 263.5C413.3 265.0 415.0 266.3 417.5 266.5C420.0 266.7 424.8 265.5 428.0 265.0C431.2 264.5 436.6 263.7 438.2 263.5Z" fill="#90db7f" stroke="#90db7f" stroke-width="0.6"/>
<path d="M379.0 329.5C379.7 329.4 382.3 329.8 383.5 328.8C384.7 327.8 386.1 324.1 386.6 323.2C387.1 324.8 388.7 331.2 389.8 333.5C390.9 335.8 392.7 336.2 393.5 338.0C394.3 339.8 393.8 343.4 395.0 345.5C396.2 347.6 399.7 349.4 401.0 351.5C402.3 353.6 402.3 357.2 403.2 359.0C404.1 360.8 405.7 362.1 407.0 363.5C408.3 364.9 410.7 366.4 411.5 368.0C412.3 369.6 411.5 372.4 412.2 374.0C412.9 375.6 414.5 377.1 416.0 378.5C417.5 379.9 420.8 381.7 422.0 383.0C423.2 384.3 423.3 386.1 423.5 386.7C423.1 387.5 421.8 390.3 421.2 392.0C420.6 393.7 419.8 396.6 419.7 398.0C419.6 399.4 420.6 400.5 420.8 401.0C420.1 401.2 417.7 402.4 416.0 402.2C414.3 402.0 411.6 400.5 410.0 400.0C408.4 399.5 407.3 399.0 405.5 399.2C403.7 399.4 400.4 400.7 398.0 401.5C395.6 402.3 391.0 403.8 389.7 404.2C388.9 403.9 386.2 401.7 384.5 402.2C382.8 402.7 380.0 406.5 378.5 407.5C377.0 408.5 375.3 408.8 374.7 409.0C374.9 407.6 376.7 402.2 376.2 400.0C375.7 397.8 372.8 396.5 371.7 395.0C370.6 393.5 369.0 391.9 368.8 390.5C368.6 389.1 370.1 388.1 370.2 386.0C370.3 383.9 369.8 379.8 369.5 377.0C369.2 374.2 368.0 370.6 368.0 368.0C368.0 365.4 369.7 362.0 369.5 359.8C369.3 357.6 366.7 355.5 366.5 353.8C366.3 352.1 367.1 350.0 368.0 348.5C368.9 347.0 371.1 345.8 372.5 344.0C373.9 342.2 376.0 338.7 377.0 336.5C378.0 334.3 378.7 330.6 379.0 329.5Z" fill="#6cd174" stroke="#6cd174" stroke-width="0.6"/>
<path d="M296.5 473.0C294.0 472.3 284.8 469.9 280.0 468.5C275.2 467.1 269.6 465.4 265.0 464.0C260.4 462.6 255.4 460.1 250.0 459.5C244.6 458.9 235.4 460.2 230.0 460.0C224.6 459.8 218.0 459.3 215.0 458.5C212.0 457.7 211.2 456.1 210.5 454.8C209.8 453.5 209.6 451.5 210.5 450.2C211.4 448.9 214.7 447.6 216.5 446.5C218.3 445.4 221.7 444.2 222.5 442.8C223.3 441.4 221.8 438.3 221.7 437.5C222.5 436.3 225.8 432.1 227.0 430.0C228.2 427.9 227.8 426.1 229.2 424.0C230.6 421.9 234.8 418.3 236.0 416.5C237.2 414.7 237.0 413.2 236.8 412.0C236.6 410.8 233.9 410.4 234.5 409.0C235.1 407.6 237.7 404.4 240.5 403.0C243.3 401.6 250.7 400.5 252.5 400.0C253.7 399.4 257.7 396.8 260.0 396.2C262.3 395.6 265.8 396.8 267.5 395.8C269.2 394.8 270.4 390.9 271.2 389.5C272.0 388.1 272.3 387.1 272.5 386.7C273.1 387.5 275.0 390.3 276.2 392.0C277.4 393.7 279.2 396.1 280.0 398.0C280.8 399.9 281.0 403.3 281.2 404.3C281.7 405.4 283.1 409.5 284.5 411.5C285.9 413.5 288.7 415.7 290.5 417.5C292.3 419.3 294.7 421.8 296.5 423.5C298.3 425.2 301.1 427.4 302.5 428.8C303.9 430.2 305.4 431.0 305.5 432.5C305.6 434.0 303.9 436.9 303.2 438.5C302.5 440.1 300.5 441.6 301.0 443.0C301.5 444.4 305.7 446.0 306.2 447.5C306.7 449.0 304.2 451.2 304.0 452.8C303.8 454.4 305.4 456.3 304.8 458.0C304.2 459.7 301.2 462.2 300.2 464.0C299.2 465.8 298.6 468.6 298.0 470.0C297.4 471.4 296.7 472.5 296.5 473.0Z" fill="#53ca6d" stroke="#53ca6d" stroke-width="0.6"/>
<path d="M201.6 339.8C203.6 339.3 211.1 336.5 214.5 336.5C217.9 336.5 220.0 339.4 223.5 339.5C227.0 339.6 233.5 338.0 237.0 337.2C240.5 336.4 242.8 334.8 246.0 334.2C249.2 333.6 255.5 333.5 258.0 333.5C260.5 333.5 261.8 333.9 262.5 334.0C263.7 334.3 267.6 335.6 270.0 335.8C272.4 336.0 277.2 333.7 278.2 335.0C279.2 336.3 276.9 341.4 276.8 344.0C276.7 346.6 278.0 349.4 277.5 352.2C277.0 355.0 274.5 358.9 273.8 362.0C273.1 365.1 273.2 369.3 273.0 372.5C272.8 375.7 272.3 380.8 272.2 383.0C272.1 385.2 272.5 386.1 272.5 386.7C272.3 387.1 272.0 388.1 271.2 389.5C270.4 390.9 269.2 394.8 267.5 395.8C265.8 396.8 262.3 395.6 260.0 396.2C257.7 396.8 253.7 399.4 252.5 400.0C251.3 398.8 247.6 394.2 244.5 392.0C241.4 389.8 236.2 388.1 232.5 386.0C228.8 383.9 223.3 380.8 220.5 378.5C217.7 376.2 215.9 373.3 214.5 371.0C213.1 368.7 212.9 365.6 211.5 363.5C210.1 361.4 207.4 358.9 205.5 357.5C203.6 356.1 200.0 355.0 199.0 354.5C199.0 353.9 199.7 351.7 199.0 350.8C198.3 349.9 195.0 349.5 194.5 348.5C194.0 347.5 194.9 345.3 196.0 344.0C197.1 342.7 200.7 340.4 201.6 339.8Z" fill="#75d377" stroke="#75d377" stroke-width="0.6"/>
<path d="M563.2 263.5C563.1 264.7 562.3 268.5 562.5 271.0C562.7 273.5 564.2 277.5 564.8 280.0C565.4 282.5 566.1 285.2 566.2 287.5C566.3 289.8 565.1 292.9 565.5 295.0C565.9 297.1 567.9 299.3 568.5 301.0C569.1 302.7 569.7 305.0 569.2 306.2C568.7 307.4 565.7 307.7 565.5 308.5C565.3 309.3 567.2 310.1 568.0 311.5C568.8 312.9 570.3 316.1 571.0 317.5C571.7 318.9 572.3 320.0 572.5 320.5C572.0 320.6 571.3 320.6 569.5 321.2C567.7 321.8 561.9 323.7 560.5 324.2C559.3 324.4 555.8 325.9 553.0 325.8C550.2 325.7 545.3 324.2 542.5 323.5C539.7 322.8 537.1 321.8 535.0 321.2C532.9 320.6 529.9 319.9 529.0 319.7C528.5 318.4 527.0 313.9 526.0 311.5C525.0 309.1 522.4 304.7 522.2 304.0C522.0 303.3 525.5 307.7 525.0 307.0C524.5 306.3 520.6 301.8 519.0 299.5C517.4 297.2 515.9 294.8 514.5 292.0C513.1 289.2 511.3 284.0 510.0 281.5C508.7 279.0 506.7 277.2 506.2 275.5C505.7 273.8 505.3 271.5 507.0 270.2C508.7 268.9 515.0 267.8 517.5 267.2C520.0 266.6 522.6 266.6 523.5 266.5C524.0 267.7 525.3 272.7 526.5 274.0C527.7 275.3 530.4 275.7 531.0 274.8C531.6 273.9 530.7 269.8 530.2 268.0C529.7 266.2 527.4 263.4 528.0 262.8C528.6 262.2 531.7 263.9 534.0 264.2C536.3 264.5 541.2 265.3 543.0 265.0C544.8 264.7 544.2 262.3 546.0 262.0C547.8 261.7 552.4 262.6 555.0 262.8C557.6 263.0 561.9 263.4 563.2 263.5Z" fill="#1cb557" stroke="#1cb557" stroke-width="0.6"/>
<path d="M457.2 444.5C455.5 444.8 448.6 445.9 446.0 446.5C443.4 447.1 442.1 447.7 440.0 448.5C437.9 449.3 434.6 450.3 432.5 451.5C430.4 452.7 428.1 454.6 426.5 456.0C424.9 457.4 423.4 458.9 422.0 460.5C420.6 462.1 419.1 464.9 417.5 466.5C415.9 468.1 413.6 469.7 411.5 471.0C409.4 472.3 405.2 474.1 404.0 474.7C403.8 473.2 403.1 467.6 402.5 465.0C401.9 462.4 400.4 459.8 400.2 457.5C400.0 455.2 401.1 452.8 401.0 450.0C400.9 447.2 399.3 442.5 399.5 439.5C399.7 436.5 401.8 432.0 402.5 430.5C403.2 429.0 404.2 431.0 404.0 430.0C403.8 429.0 402.8 425.4 401.0 424.0C399.2 422.6 394.0 422.4 392.0 421.0C390.0 419.6 388.6 417.6 388.2 415.0C387.8 412.4 389.5 405.9 389.7 404.2C391.0 403.8 395.6 402.3 398.0 401.5C400.4 400.7 403.7 399.4 405.5 399.2C407.3 399.0 408.4 399.5 410.0 400.0C411.6 400.5 414.3 402.0 416.0 402.2C417.7 402.4 420.1 401.2 420.8 401.0C420.9 401.5 420.9 402.4 421.2 404.0C421.5 405.6 422.1 409.3 422.7 411.5C423.3 413.7 423.7 416.9 425.0 418.2C426.3 419.5 429.2 419.5 431.0 419.7C432.8 419.9 435.2 420.0 437.0 419.7C438.8 419.4 442.1 417.8 443.0 417.5C443.7 418.2 445.9 420.6 447.5 422.0C449.1 423.4 451.7 425.1 453.5 426.5C455.3 427.9 458.3 429.8 459.5 431.0C460.7 432.2 461.5 433.1 461.0 434.0C460.5 434.9 457.0 435.8 456.5 437.0C456.0 438.2 457.9 440.3 458.0 441.5C458.1 442.7 457.3 444.0 457.2 444.5Z" fill="#c4ec91" stroke="#c4ec91" stroke-width="0.6"/>
<path d="M208.0 245.7C209.6 246.1 216.4 246.7 218.5 248.0C220.6 249.3 220.1 252.3 221.5 254.0C222.9 255.7 226.2 257.9 227.5 259.2C228.8 260.5 229.4 261.3 230.0 262.5C230.6 263.7 230.3 265.4 231.5 267.0C232.7 268.6 236.0 270.9 237.5 273.0C239.0 275.1 240.0 278.7 241.2 280.5C242.4 282.3 244.1 282.9 245.0 285.0C245.9 287.1 246.5 291.2 247.2 294.0C247.9 296.8 248.5 300.2 249.5 303.0C250.5 305.8 252.4 309.7 254.0 312.0C255.6 314.3 258.6 316.3 260.0 318.0C261.4 319.7 262.5 322.2 263.0 323.0C262.8 324.1 261.6 328.3 261.5 330.0C261.4 331.7 262.3 333.4 262.5 334.0C261.8 333.9 260.5 333.5 258.0 333.5C255.5 333.5 249.2 333.6 246.0 334.2C242.8 334.8 240.5 336.4 237.0 337.2C233.5 338.0 227.0 339.6 223.5 339.5C220.0 339.4 217.9 336.5 214.5 336.5C211.1 336.5 203.6 339.3 201.6 339.8C201.9 339.4 204.0 338.4 203.8 337.0C203.6 335.6 200.1 332.8 200.0 331.0C199.9 329.2 203.0 326.8 203.0 325.0C203.0 323.2 200.9 320.8 200.0 319.0C199.1 317.2 198.3 314.4 197.0 313.0C195.7 311.6 193.4 311.2 191.8 310.0C190.2 308.8 187.3 306.2 186.5 305.5C186.7 304.3 187.1 299.6 188.0 298.0C188.9 296.4 192.5 295.9 192.5 295.0C192.5 294.1 189.4 293.4 188.0 292.0C186.6 290.6 184.3 288.1 183.5 286.0C182.7 283.9 182.8 279.7 182.7 278.5C183.1 277.8 184.8 275.4 185.0 274.0C185.2 272.6 184.0 271.0 184.2 269.5C184.4 268.0 185.6 266.3 186.2 264.5C186.8 262.7 186.3 259.2 187.8 257.8C189.3 256.4 193.8 256.3 196.0 255.5C198.2 254.7 200.2 254.0 202.0 252.5C203.8 251.0 207.1 246.7 208.0 245.7Z" fill="#50c96c" stroke="#50c96c" stroke-width="0.6"/>
<path d="M371.5 185.0C372.0 185.9 373.8 188.7 374.5 191.0C375.2 193.3 376.2 197.7 376.0 200.0C375.8 202.3 373.0 204.2 373.0 206.0C373.0 207.8 375.7 212.2 376.0 212.0C376.3 211.8 374.9 204.9 374.8 205.0C374.7 205.1 375.9 210.2 375.5 212.5C375.1 214.8 373.7 217.7 372.5 220.0C371.3 222.3 370.1 225.5 368.0 227.5C365.9 229.5 360.8 231.0 359.0 232.8C357.2 234.6 357.2 238.0 356.0 239.5C354.8 241.0 351.7 241.6 351.5 242.5C351.3 243.4 355.0 244.5 354.5 245.5C354.0 246.5 348.6 247.8 348.5 249.2C348.4 250.6 351.7 253.5 353.8 254.5C355.9 255.5 360.3 254.8 362.0 256.0C363.7 257.2 364.5 261.1 365.0 262.0C366.4 262.1 371.2 262.5 374.0 262.8C376.8 263.1 381.2 263.4 383.0 264.2C384.8 265.0 385.5 267.4 386.0 268.0C386.7 267.1 388.9 263.8 390.5 262.0C392.1 260.2 394.7 257.6 396.5 256.0C398.3 254.4 401.1 251.4 402.5 251.5C403.9 251.6 404.1 255.0 405.5 256.8C406.9 258.6 409.7 262.0 411.5 263.5C413.3 265.0 415.0 266.3 417.5 266.5C420.0 266.7 424.8 265.5 428.0 265.0C431.2 264.5 436.6 263.7 438.2 263.5C438.6 262.3 439.9 258.3 440.5 256.0C441.1 253.7 442.4 249.2 442.0 248.5C441.6 247.8 439.4 251.3 438.2 251.5C437.0 251.7 435.5 251.3 434.5 250.0C433.5 248.7 432.8 244.4 431.5 243.2C430.2 242.0 427.8 242.1 426.2 242.5C424.6 242.9 421.6 246.3 421.0 245.5C420.4 244.7 421.5 239.2 422.5 237.2C423.5 235.2 427.7 234.8 427.8 232.8C427.9 230.8 424.1 226.7 423.2 224.5C422.3 222.3 421.9 219.4 421.7 218.5C420.9 218.6 418.2 219.4 416.5 219.2C414.8 219.0 411.3 218.3 410.5 217.0C409.7 215.7 411.0 211.8 411.2 211.0C411.4 210.2 412.3 213.0 412.0 212.0C411.7 211.0 409.2 206.7 409.0 204.5C408.8 202.3 410.7 199.3 410.5 197.8C410.3 196.3 408.4 196.1 407.5 194.8C406.6 193.5 405.7 191.0 404.5 189.5C403.3 188.0 400.7 185.7 400.0 185.0C399.1 185.2 395.8 186.7 394.0 186.5C392.2 186.3 389.8 184.8 388.0 183.5C386.2 182.2 383.8 178.6 382.0 178.2C380.2 177.8 377.6 180.2 376.0 181.2C374.4 182.2 372.2 184.4 371.5 185.0Z" fill="#e1f49a" stroke="#e1f49a" stroke-width="0.6"/>
<path d="M423.5 386.7C424.0 386.4 424.9 385.0 426.5 384.5C428.1 384.0 431.9 383.5 434.0 383.7C436.1 383.9 438.8 385.1 440.0 385.5C441.2 385.9 441.3 385.9 441.5 386.0C441.8 386.7 443.0 389.1 443.7 390.5C444.4 391.9 445.0 393.4 446.0 395.0C447.0 396.6 449.8 400.1 450.5 401.0C450.0 401.7 447.7 404.1 447.5 405.5C447.3 406.9 449.5 409.1 449.0 410.0C448.5 410.9 445.4 410.3 444.5 411.5C443.6 412.7 443.2 416.6 443.0 417.5C442.1 417.8 438.8 419.4 437.0 419.7C435.2 420.0 432.8 419.9 431.0 419.7C429.2 419.5 426.3 419.5 425.0 418.2C423.7 416.9 423.3 413.7 422.7 411.5C422.1 409.3 421.5 405.6 421.2 404.0C420.9 402.4 420.9 401.5 420.8 401.0C420.6 400.5 419.6 399.4 419.7 398.0C419.8 396.6 420.6 393.7 421.2 392.0C421.8 390.3 423.1 387.5 423.5 386.7Z" fill="#fbfaa0" stroke="#fbfaa0" stroke-width="0.6"/>
<path d="M503.2 382.2C503.8 381.6 505.3 379.0 507.0 378.5C508.7 378.0 511.7 379.2 514.5 379.2C517.3 379.2 521.8 378.7 525.0 378.5C528.2 378.3 532.5 377.9 535.5 377.8C538.5 377.7 541.5 377.5 544.5 377.8C547.5 378.1 553.4 379.7 555.0 380.0C554.4 380.7 551.2 383.3 551.2 384.5C551.2 385.7 553.4 386.7 555.0 387.5C556.6 388.3 560.5 388.6 561.8 389.8C563.1 391.0 562.4 393.3 563.2 395.0C564.0 396.7 566.1 399.2 567.0 401.0C567.9 402.8 569.4 405.2 569.2 407.0C569.0 408.8 566.4 411.5 565.5 413.0C564.6 414.5 563.6 416.1 563.2 416.7C561.9 416.3 557.4 414.8 555.0 413.8C552.6 412.8 549.8 411.3 547.5 410.0C545.2 408.7 542.3 406.5 540.0 405.5C537.7 404.5 535.3 403.7 532.5 403.2C529.7 402.7 525.5 402.7 522.0 402.5C518.5 402.3 513.4 402.2 510.0 401.8C506.6 401.4 502.9 400.3 500.0 400.2C497.1 400.1 493.5 401.0 491.0 401.0C488.5 401.0 485.3 399.6 483.5 400.2C481.7 400.8 481.3 404.0 479.0 404.8C476.7 405.6 470.6 406.0 468.5 405.5C466.4 405.0 467.6 402.7 465.5 401.8C463.4 400.9 457.3 399.6 455.0 399.5C452.7 399.4 451.2 400.8 450.5 401.0C449.8 400.1 447.0 396.6 446.0 395.0C445.0 393.4 444.4 391.9 443.7 390.5C443.0 389.1 441.8 386.7 441.5 386.0C442.4 385.3 445.4 382.5 447.5 381.5C449.6 380.5 452.8 380.0 455.0 379.2C457.2 378.4 460.9 376.7 462.0 376.2C463.2 376.4 467.4 377.4 470.0 377.8C472.6 378.2 476.2 378.3 479.0 378.5C481.8 378.7 485.2 379.0 488.0 379.2C490.8 379.4 494.7 379.5 497.0 380.0C499.3 380.5 502.2 381.9 503.2 382.2Z" fill="#6fd275" stroke="#6fd275" stroke-width="0.6"/>
<path d="M508.0 139.2C508.9 140.0 512.2 142.8 514.0 144.5C515.8 146.2 518.2 148.4 520.0 150.5C521.8 152.6 525.2 156.5 526.0 158.0C526.8 159.5 524.0 159.0 525.0 160.0C526.0 161.0 530.7 162.9 532.5 164.5C534.3 166.1 535.8 168.4 537.0 170.5C538.2 172.6 538.4 176.2 540.0 178.0C541.6 179.8 545.4 181.1 547.5 182.5C549.6 183.9 551.9 185.5 553.5 187.0C555.1 188.5 557.2 190.4 558.0 192.2C558.8 194.0 558.8 197.5 558.8 199.0C558.8 200.5 558.1 201.5 558.0 202.0C557.1 202.2 553.8 203.2 552.0 203.5C550.2 203.8 547.8 204.7 546.0 204.2C544.2 203.7 541.4 201.8 540.0 200.5C538.6 199.2 538.2 197.0 537.0 196.0C535.8 195.0 534.1 194.5 532.5 193.8C530.9 193.1 526.7 191.2 526.5 191.5C526.3 191.8 530.5 194.7 531.0 196.0C531.5 197.3 530.7 199.5 529.5 199.8C528.3 200.1 525.1 198.1 523.5 198.2C521.9 198.3 521.1 200.0 519.0 200.5C516.9 201.0 512.5 200.9 510.0 201.2C507.5 201.5 503.7 202.0 502.5 202.2C501.8 201.9 498.9 201.3 498.0 200.0C497.1 198.7 495.8 195.4 496.5 194.0C497.2 192.6 502.3 192.5 502.5 191.0C502.7 189.5 499.6 185.6 498.0 184.2C496.4 182.8 493.8 181.9 492.0 182.0C490.2 182.1 487.4 183.8 486.0 185.0C484.6 186.2 484.3 188.7 483.0 189.5C481.7 190.3 479.4 190.9 477.8 190.2C476.2 189.5 474.7 186.1 472.5 185.0C470.3 183.9 465.3 184.4 463.5 182.8C461.7 181.2 461.8 176.7 460.5 174.5C459.2 172.3 456.0 169.4 455.2 168.5C455.4 168.0 457.3 166.4 456.8 165.5C456.3 164.6 452.7 163.4 452.2 162.5C451.7 161.6 452.5 159.7 453.8 159.5C455.1 159.3 458.8 161.5 460.5 161.0C462.2 160.5 464.7 157.7 465.0 156.5C465.3 155.3 462.6 154.0 462.2 153.5C462.8 153.3 465.0 153.2 466.0 152.0C467.0 150.8 467.4 146.5 469.0 146.0C470.6 145.5 474.0 148.8 476.5 149.0C479.0 149.2 483.4 147.3 485.5 147.5C487.6 147.7 488.8 150.7 490.0 150.5C491.2 150.3 491.2 146.6 493.0 146.0C494.8 145.4 500.4 147.3 502.0 146.8C503.6 146.3 502.6 144.2 503.5 143.0C504.4 141.8 507.3 139.8 508.0 139.2Z" fill="#37c062" stroke="#37c062" stroke-width="0.6"/>
<path d="M221.7 437.5C220.7 437.3 217.0 436.7 215.0 436.0C213.0 435.3 211.3 434.3 209.0 433.0C206.7 431.7 201.6 429.1 200.0 427.8C198.4 426.5 199.7 425.8 198.5 424.8C197.3 423.8 194.3 422.3 192.5 421.0C190.7 419.7 187.3 418.1 186.5 416.5C185.7 414.9 187.4 412.2 187.2 410.5C187.0 408.8 184.9 406.6 185.0 405.2C185.1 403.8 186.8 402.4 188.0 401.5C189.2 400.6 190.3 399.3 192.5 399.2C194.7 399.1 200.7 401.0 202.2 400.8C203.7 400.6 203.2 399.1 202.2 397.8C201.2 396.5 197.6 393.9 195.5 392.5C193.4 391.1 190.3 390.1 188.5 389.0C186.7 387.9 185.6 385.3 184.0 385.2C182.4 385.1 180.1 386.7 178.0 388.2C175.9 389.7 172.3 393.0 170.5 395.0C168.7 397.0 167.4 399.7 166.0 401.0C164.6 402.3 162.7 403.4 161.5 403.2C160.3 403.0 159.3 400.9 158.5 399.5C157.7 398.1 156.6 395.0 156.2 394.2C157.0 394.1 160.2 394.0 161.5 393.5C162.8 393.0 164.4 392.2 164.5 391.2C164.6 390.2 162.0 388.3 162.2 386.8C162.4 385.3 165.0 383.0 166.0 381.5C167.0 380.0 167.6 377.6 169.0 377.0C170.4 376.4 173.2 377.3 175.0 377.8C176.8 378.3 179.4 380.8 181.0 380.0C182.6 379.2 184.1 374.8 185.5 372.5C186.9 370.2 188.4 367.5 190.0 365.0C191.6 362.5 194.6 357.6 196.0 356.0C197.4 354.4 198.5 354.7 199.0 354.5C200.0 355.0 203.6 356.1 205.5 357.5C207.4 358.9 210.1 361.4 211.5 363.5C212.9 365.6 213.1 368.7 214.5 371.0C215.9 373.3 217.7 376.2 220.5 378.5C223.3 380.8 228.8 383.9 232.5 386.0C236.2 388.1 241.4 389.8 244.5 392.0C247.6 394.2 251.3 398.8 252.5 400.0C250.7 400.5 243.3 401.6 240.5 403.0C237.7 404.4 235.1 407.6 234.5 409.0C233.9 410.4 236.6 410.8 236.8 412.0C237.0 413.2 237.2 414.7 236.0 416.5C234.8 418.3 230.6 421.9 229.2 424.0C227.8 426.1 228.2 427.9 227.0 430.0C225.8 432.1 222.5 436.3 221.7 437.5Z" fill="#b7e88c" stroke="#b7e88c" stroke-width="0.6"/>
<path d="M260.5 109.5C260.5 108.7 260.1 104.9 260.8 104.3C261.5 103.7 263.2 105.0 265.0 105.5C266.8 106.0 270.2 106.6 272.5 107.3C274.8 108.0 276.8 109.3 280.0 110.0C283.2 110.7 289.3 111.2 293.5 111.8C297.7 112.4 303.5 114.2 307.0 114.2C310.5 114.2 314.2 112.6 316.0 111.8C317.8 111.0 318.0 109.0 318.7 108.8C319.4 108.6 318.8 110.4 320.5 110.8C322.2 111.2 327.4 110.2 329.5 111.2C331.6 112.2 332.4 115.8 334.0 117.5C335.6 119.2 338.2 120.5 340.0 122.0C341.8 123.5 343.7 125.8 346.0 127.2C348.3 128.6 353.8 130.4 355.2 131.0C355.8 132.2 358.8 137.1 358.8 138.5C358.8 139.9 355.6 139.8 355.0 140.0C352.7 140.5 344.2 142.4 340.0 143.0C335.8 143.6 331.7 144.0 328.0 143.8C324.3 143.6 318.8 141.3 316.0 141.5C313.2 141.7 312.3 143.8 310.0 145.2C307.7 146.6 303.1 149.0 301.0 150.5C298.9 152.0 297.8 153.4 296.5 155.0C295.2 156.6 293.3 160.1 292.7 161.0C291.7 161.3 288.0 162.5 286.0 162.8C284.0 163.1 280.5 163.0 279.5 163.0C279.2 162.9 278.5 162.3 277.5 162.5C276.5 162.7 275.1 164.2 273.0 164.0C270.9 163.8 266.8 161.9 264.0 161.0C261.2 160.1 258.2 158.9 255.0 158.0C251.8 157.1 247.0 155.8 243.0 155.0C239.0 154.2 231.2 153.3 229.0 153.0C228.7 152.7 226.6 152.4 226.8 150.8C227.0 149.2 229.2 144.3 230.5 142.5C231.8 140.7 232.7 138.2 235.0 138.8C237.3 139.4 243.4 146.8 245.5 146.2C247.6 145.6 249.1 137.5 248.5 135.0C247.9 132.5 242.6 131.2 241.8 129.8C241.0 128.4 240.1 126.8 243.2 126.0C246.3 125.2 258.1 125.8 262.0 124.5C265.9 123.2 269.0 120.1 268.8 117.8C268.6 115.5 261.8 110.8 260.5 109.5Z" fill="#6cd174" stroke="#6cd174" stroke-width="0.6"/>
<path d="M288.0 235.7C288.3 234.7 289.3 231.0 290.2 229.0C291.1 227.0 292.7 225.1 294.0 223.0C295.3 220.9 297.6 217.3 298.5 215.5C299.4 213.7 299.1 212.4 300.0 211.0C300.9 209.6 303.8 207.2 304.5 206.5C305.2 207.1 307.2 209.3 309.0 210.2C310.8 211.1 314.5 212.5 316.5 212.5C318.5 212.5 320.5 212.0 322.0 210.5C323.5 209.0 324.9 205.0 326.5 203.0C328.1 201.0 330.9 198.0 332.5 197.8C334.1 197.6 336.0 201.3 337.0 201.5C338.0 201.7 338.3 200.8 339.2 199.2C340.1 197.6 341.7 193.2 343.0 191.0C344.3 188.8 345.9 186.3 347.5 185.0C349.1 183.7 351.4 183.3 353.5 182.8C355.6 182.3 359.8 182.1 361.0 182.0C361.9 182.2 365.4 183.0 367.0 183.5C368.6 184.0 370.8 184.8 371.5 185.0C372.0 185.9 373.8 188.7 374.5 191.0C375.2 193.3 376.2 197.7 376.0 200.0C375.8 202.3 373.0 204.2 373.0 206.0C373.0 207.8 375.7 212.2 376.0 212.0C376.3 211.8 374.9 204.9 374.8 205.0C374.7 205.1 375.9 210.2 375.5 212.5C375.1 214.8 373.7 217.7 372.5 220.0C371.3 222.3 370.1 225.5 368.0 227.5C365.9 229.5 360.8 231.0 359.0 232.8C357.2 234.6 357.2 238.0 356.0 239.5C354.8 241.0 351.7 241.6 351.5 242.5C351.3 243.4 355.0 244.5 354.5 245.5C354.0 246.5 348.6 247.8 348.5 249.2C348.4 250.6 351.7 253.5 353.8 254.5C355.9 255.5 360.3 254.8 362.0 256.0C363.7 257.2 364.5 261.1 365.0 262.0C364.1 262.3 360.7 262.9 359.0 264.2C357.3 265.5 355.3 269.0 353.8 270.2C352.3 271.4 349.9 271.7 349.2 272.0C348.6 271.8 347.0 271.6 345.1 271.0C343.2 270.4 338.2 269.6 336.8 268.0C335.4 266.4 337.0 262.1 336.0 260.5C335.0 258.9 332.3 257.7 330.0 257.5C327.7 257.3 324.0 259.4 321.0 259.0C318.0 258.6 313.3 255.7 310.5 255.2C307.7 254.7 304.2 255.9 303.0 256.0C302.3 255.1 300.3 251.7 298.5 250.0C296.7 248.3 291.6 246.4 291.0 244.8C290.4 243.2 295.3 240.9 294.8 239.5C294.3 238.1 289.0 236.3 288.0 235.7Z" fill="#72d376" stroke="#72d376" stroke-width="0.6"/>
<path d="M400.0 185.0C400.5 183.8 401.6 179.5 403.0 177.5C404.4 175.5 408.3 173.8 409.0 172.2C409.7 170.6 407.3 168.1 407.5 167.0C407.7 165.9 409.3 164.5 410.5 164.8C411.7 165.1 412.9 168.9 415.0 169.2C417.1 169.5 421.8 167.3 424.0 167.0C426.2 166.7 426.6 167.3 429.0 167.0C431.4 166.7 436.5 165.3 439.5 164.8C442.5 164.3 446.1 163.4 448.5 164.0C450.9 164.6 454.2 167.8 455.2 168.5C456.0 169.4 459.2 172.3 460.5 174.5C461.8 176.7 461.7 181.2 463.5 182.8C465.3 184.4 470.3 183.9 472.5 185.0C474.7 186.1 476.2 189.5 477.8 190.2C479.4 190.9 481.7 190.3 483.0 189.5C484.3 188.7 484.6 186.2 486.0 185.0C487.4 183.8 490.2 182.1 492.0 182.0C493.8 181.9 496.4 182.8 498.0 184.2C499.6 185.6 502.7 189.5 502.5 191.0C502.3 192.5 497.2 192.6 496.5 194.0C495.8 195.4 497.1 198.7 498.0 200.0C498.9 201.3 501.8 201.9 502.5 202.2L502.2 213.0C501.2 213.0 497.9 213.3 496.0 213.2C494.1 213.1 492.1 212.8 490.0 212.5C487.9 212.2 484.1 211.5 482.5 211.0C480.9 210.5 480.7 208.8 479.5 209.5C478.3 210.2 476.7 215.1 475.0 215.5C473.3 215.9 469.6 211.4 468.2 211.8C466.8 212.2 467.3 217.2 466.0 217.8C464.7 218.4 462.1 215.6 460.0 215.5C457.9 215.4 454.3 216.1 452.5 217.0C450.7 217.9 449.6 220.8 448.0 221.5C446.4 222.2 443.6 222.3 442.0 221.5C440.4 220.7 439.3 216.7 437.5 216.2C435.7 215.7 432.4 218.1 430.0 218.5C427.6 218.9 423.0 218.5 421.7 218.5C420.9 218.6 418.2 219.4 416.5 219.2C414.8 219.0 411.3 218.3 410.5 217.0C409.7 215.7 411.0 211.8 411.2 211.0C411.4 210.2 412.3 213.0 412.0 212.0C411.7 211.0 409.2 206.7 409.0 204.5C408.8 202.3 410.7 199.3 410.5 197.8C410.3 196.3 408.4 196.1 407.5 194.8C406.6 193.5 405.7 191.0 404.5 189.5C403.3 188.0 400.7 185.7 400.0 185.0Z" fill="#4ac76a" stroke="#4ac76a" stroke-width="0.6"/>
<path d="M333.3 470.5C332.9 470.2 332.7 468.7 331.0 468.5C329.3 468.3 324.8 469.0 322.0 469.2C319.2 469.4 316.0 469.5 313.0 470.0C310.0 470.5 305.0 471.7 302.5 472.2C300.0 472.7 297.4 472.9 296.5 473.0C296.7 472.5 297.4 471.4 298.0 470.0C298.6 468.6 299.2 465.8 300.2 464.0C301.2 462.2 304.2 459.7 304.8 458.0C305.4 456.3 303.8 454.4 304.0 452.8C304.2 451.2 306.7 449.0 306.2 447.5C305.7 446.0 301.5 444.4 301.0 443.0C300.5 441.6 302.5 440.1 303.2 438.5C303.9 436.9 305.6 434.0 305.5 432.5C305.4 431.0 303.9 430.2 302.5 428.8C301.1 427.4 298.3 425.2 296.5 423.5C294.7 421.8 292.3 419.3 290.5 417.5C288.7 415.7 285.9 413.5 284.5 411.5C283.1 409.5 281.7 405.4 281.2 404.3C281.4 404.4 281.0 405.0 282.2 404.8C283.4 404.6 287.3 403.1 289.0 403.2C290.7 403.3 292.1 405.7 293.5 405.5C294.9 405.3 296.4 402.5 298.0 401.8C299.6 401.1 302.2 401.6 304.0 401.0C305.8 400.4 309.3 399.6 310.0 398.0C310.7 396.4 308.8 392.8 308.5 390.5C308.2 388.2 307.1 385.1 307.8 383.0C308.5 380.9 311.5 378.7 313.0 377.0C314.5 375.3 316.3 371.9 317.5 371.8C318.7 371.7 320.0 375.5 320.5 376.2C321.2 375.6 323.8 372.1 325.0 372.5C326.2 372.9 326.8 376.9 328.0 378.5C329.2 380.1 330.9 382.0 332.5 383.0C334.1 384.0 337.8 383.8 338.5 385.2C339.2 386.6 337.0 389.8 337.0 392.0C337.0 394.2 338.0 397.2 338.5 399.5C339.0 401.8 339.6 404.8 340.0 407.0C340.4 409.2 339.9 412.6 340.8 413.8C341.7 415.0 344.9 414.8 345.6 415.0C345.5 417.2 344.8 425.2 344.8 429.0C344.8 432.8 346.3 437.4 345.5 439.5C344.7 441.6 342.0 441.3 339.5 442.5C337.0 443.7 330.4 445.2 329.0 447.0C327.6 448.8 329.3 452.2 330.5 454.5C331.7 456.8 335.1 460.3 336.5 462.0C337.9 463.7 340.0 464.4 339.5 465.8C339.0 467.2 334.5 470.3 333.5 471.0C332.5 471.7 333.3 470.6 333.3 470.5Z" fill="#82d67a" stroke="#82d67a" stroke-width="0.6"/>
<path d="M386.6 323.2C387.7 323.0 391.5 322.3 394.0 322.0C396.5 321.7 400.7 321.1 403.0 321.2C405.3 321.3 407.4 322.2 409.0 322.8C410.6 323.4 412.1 325.4 413.5 325.0C414.9 324.6 416.4 321.5 418.0 320.5C419.6 319.5 422.5 318.0 424.0 318.2C425.5 318.4 427.0 321.2 427.5 321.7C428.0 322.6 429.5 326.1 431.0 327.5C432.5 328.9 435.8 329.1 437.0 330.5C438.2 331.9 438.0 334.7 438.5 336.5C439.0 338.3 438.8 341.1 440.0 342.5C441.2 343.9 444.2 344.6 446.0 345.5C447.8 346.4 450.6 347.1 452.0 348.5C453.4 349.9 454.1 352.7 455.0 354.5C455.9 356.3 456.8 358.9 458.0 360.5C459.2 362.1 461.3 363.8 462.5 365.0C463.7 366.2 465.7 367.1 465.5 368.0C465.3 368.9 461.5 369.7 461.0 371.0C460.5 372.3 461.8 375.4 462.0 376.2C460.9 376.7 457.2 378.4 455.0 379.2C452.8 380.0 449.6 380.5 447.5 381.5C445.4 382.5 442.4 385.3 441.5 386.0C441.3 385.9 441.2 385.9 440.0 385.5C438.8 385.1 436.1 383.9 434.0 383.7C431.9 383.5 428.1 384.0 426.5 384.5C424.9 385.0 424.0 386.4 423.5 386.7C423.3 386.1 423.2 384.3 422.0 383.0C420.8 381.7 417.5 379.9 416.0 378.5C414.5 377.1 412.9 375.6 412.2 374.0C411.5 372.4 412.3 369.6 411.5 368.0C410.7 366.4 408.3 364.9 407.0 363.5C405.7 362.1 404.1 360.8 403.2 359.0C402.3 357.2 402.3 353.6 401.0 351.5C399.7 349.4 396.2 347.6 395.0 345.5C393.8 343.4 394.3 339.8 393.5 338.0C392.7 336.2 390.9 335.8 389.8 333.5C388.7 331.2 387.1 324.8 386.6 323.2Z" fill="#40c467" stroke="#40c467" stroke-width="0.6"/>
<path d="M303.0 256.0C304.2 255.9 307.7 254.7 310.5 255.2C313.3 255.7 318.0 258.6 321.0 259.0C324.0 259.4 327.7 257.3 330.0 257.5C332.3 257.7 335.0 258.9 336.0 260.5C337.0 262.1 335.4 266.4 336.8 268.0C338.2 269.6 343.2 270.4 345.1 271.0C347.0 271.6 348.6 271.8 349.2 272.0C348.9 272.9 349.0 276.2 347.5 277.8C346.0 279.4 340.7 280.5 339.2 282.2C337.7 283.9 338.7 287.0 337.8 289.0C336.9 291.0 333.7 292.7 333.2 295.0C332.7 297.3 334.4 301.4 334.8 304.0C335.2 306.6 335.6 310.9 335.8 312.2C335.1 312.2 332.5 312.0 331.0 312.2C329.5 312.4 326.8 313.3 326.0 313.5C324.6 313.4 320.2 312.7 317.0 312.8C313.8 312.9 308.7 313.5 305.0 314.2C301.3 314.9 296.7 316.8 293.0 317.2C289.3 317.6 284.2 316.1 281.0 316.5C277.8 316.9 274.8 318.5 272.0 319.5C269.2 320.5 264.4 322.5 263.0 323.0C263.2 322.7 264.5 322.2 264.5 321.0C264.5 319.8 263.1 317.3 263.0 315.0C262.9 312.7 263.9 308.1 263.8 306.0C263.7 303.9 261.9 303.1 262.2 301.5C262.5 299.9 264.5 297.1 266.0 295.5C267.5 293.9 271.3 292.6 272.0 291.0C272.7 289.4 270.0 286.2 270.5 285.0C271.0 283.8 273.4 284.2 275.0 283.5C276.6 282.8 280.3 281.4 281.0 280.5C281.7 279.6 278.8 278.4 279.5 277.5C280.2 276.6 283.9 275.1 285.5 274.5C287.1 273.9 288.2 275.0 290.0 273.8C291.8 272.6 295.8 269.2 297.5 267.0C299.2 264.8 300.4 261.2 301.2 259.5C302.0 257.8 302.7 256.5 303.0 256.0Z" fill="#2cbc5e" stroke="#2cbc5e" stroke-width="0.6"/>
<path d="M229.0 153.0C229.4 153.5 231.6 155.5 231.8 156.5C232.0 157.5 231.6 159.7 230.6 159.7C229.6 159.7 227.0 156.9 225.0 156.2C223.0 155.5 220.7 155.4 217.5 155.4C214.3 155.4 206.8 155.4 204.0 156.2C201.2 157.0 200.3 159.8 199.6 160.4C199.5 161.1 199.7 163.0 198.8 164.8C197.9 166.6 193.9 170.2 193.5 172.2C193.1 174.2 195.6 175.7 196.5 177.5C197.4 179.3 198.2 182.8 199.5 184.2C200.8 185.6 203.5 185.3 204.8 186.5C206.1 187.7 207.3 190.9 207.7 191.7C209.0 192.1 214.1 193.1 216.0 194.0C217.9 194.9 217.7 196.8 219.8 197.8C221.9 198.8 226.5 200.1 229.5 200.8C232.5 201.5 237.5 202.9 239.2 202.2C240.9 201.5 239.8 196.9 240.8 196.2C241.8 195.5 244.5 197.9 246.0 197.8C247.5 197.7 249.3 196.5 250.5 195.5C251.7 194.5 252.8 192.6 253.5 191.0C254.2 189.4 253.8 186.6 255.0 185.0C256.2 183.4 258.9 182.0 261.0 180.5C263.1 179.0 266.2 176.6 268.5 175.2C270.8 173.8 274.3 172.6 276.0 171.5C277.7 170.4 279.3 169.1 279.8 167.8C280.3 166.5 279.5 163.7 279.5 163.0C279.2 162.9 278.5 162.3 277.5 162.5C276.5 162.7 275.1 164.2 273.0 164.0C270.9 163.8 266.8 161.9 264.0 161.0C261.2 160.1 258.2 158.9 255.0 158.0C251.8 157.1 247.0 155.8 243.0 155.0C239.0 154.2 231.2 153.3 229.0 153.0Z" fill="#84d77b" stroke="#84d77b" stroke-width="0.6"/>
<path d="M172.7 138.0C173.7 136.7 177.8 131.1 179.5 129.3C181.2 127.5 182.0 127.2 184.0 126.0C186.0 124.8 188.3 123.0 192.2 121.8C196.1 120.6 205.9 119.9 209.5 118.5C213.1 117.1 213.7 113.7 215.5 112.5C217.3 111.3 220.3 112.2 221.5 111.0C222.7 109.8 221.4 105.8 223.0 105.0C224.6 104.2 229.7 106.8 232.0 105.8C234.3 104.8 236.4 99.2 238.0 98.2C239.6 97.2 241.3 98.4 242.2 99.0C243.1 99.6 242.8 101.1 244.0 102.0C245.2 102.9 248.2 103.8 250.0 105.0C251.8 106.2 254.4 108.8 256.0 109.5C257.6 110.2 259.8 109.5 260.5 109.5C261.8 110.8 268.6 115.5 268.8 117.8C269.0 120.1 265.9 123.2 262.0 124.5C258.1 125.8 246.3 125.2 243.2 126.0C240.1 126.8 241.0 128.4 241.8 129.8C242.6 131.2 247.9 132.5 248.5 135.0C249.1 137.5 247.6 145.6 245.5 146.2C243.4 146.8 237.3 139.4 235.0 138.8C232.7 138.2 231.8 140.7 230.5 142.5C229.2 144.3 227.0 149.2 226.8 150.8C226.6 152.4 228.7 152.7 229.0 153.0C229.4 153.5 231.6 155.5 231.8 156.5C232.0 157.5 231.6 159.7 230.6 159.7C229.6 159.7 227.0 156.9 225.0 156.2C223.0 155.5 220.7 155.4 217.5 155.4C214.3 155.4 206.8 155.4 204.0 156.2C201.2 157.0 200.3 159.8 199.6 160.4C199.0 159.7 197.6 157.1 196.0 156.0C194.4 154.9 191.0 153.9 189.2 153.0C187.4 152.1 185.7 151.6 184.0 150.0C182.3 148.4 179.7 144.3 178.0 142.5C176.3 140.7 173.5 138.7 172.7 138.0Z" fill="#4ac76a" stroke="#4ac76a" stroke-width="0.6"/>
<path d="M355.2 131.0C356.2 130.6 359.6 130.0 361.5 128.5C363.4 127.0 365.7 122.8 367.5 121.0C369.3 119.2 371.2 117.4 373.5 116.5C375.8 115.6 378.8 115.6 382.5 115.0C386.2 114.4 392.9 113.6 397.5 112.8C402.1 112.0 407.9 110.4 412.5 109.8C417.1 109.2 425.2 109.1 427.5 109.0C428.2 109.8 430.4 112.9 432.0 114.2C433.6 115.5 436.2 115.7 438.0 117.2C439.8 118.7 443.2 122.8 444.0 124.0C444.8 125.2 442.2 123.2 443.5 125.0C444.8 126.8 450.2 132.7 452.5 135.5C454.8 138.3 457.3 140.9 458.5 143.0C459.7 145.1 459.4 147.4 460.0 149.0C460.6 150.6 461.9 152.8 462.2 153.5C462.6 154.0 465.3 155.3 465.0 156.5C464.7 157.7 462.2 160.5 460.5 161.0C458.8 161.5 455.1 159.3 453.8 159.5C452.5 159.7 451.7 161.6 452.2 162.5C452.7 163.4 456.3 164.6 456.8 165.5C457.3 166.4 455.4 168.0 455.2 168.5C454.2 167.8 450.9 164.6 448.5 164.0C446.1 163.4 442.5 164.3 439.5 164.8C436.5 165.3 431.4 166.7 429.0 167.0C426.6 167.3 426.2 166.7 424.0 167.0C421.8 167.3 417.1 169.5 415.0 169.2C412.9 168.9 411.7 165.1 410.5 164.8C409.3 164.5 407.7 165.9 407.5 167.0C407.3 168.1 409.7 170.6 409.0 172.2C408.3 173.8 404.4 175.5 403.0 177.5C401.6 179.5 400.5 183.8 400.0 185.0C399.1 185.2 395.8 186.7 394.0 186.5C392.2 186.3 389.8 184.8 388.0 183.5C386.2 182.2 383.8 178.6 382.0 178.2C380.2 177.8 377.6 180.2 376.0 181.2C374.4 182.2 372.2 184.4 371.5 185.0C370.8 184.8 368.6 184.0 367.0 183.5C365.4 183.0 361.9 182.2 361.0 182.0C361.1 180.8 362.0 177.0 361.8 174.5C361.6 172.0 360.3 168.2 359.5 165.5C358.7 162.8 356.4 159.0 356.5 157.2C356.6 155.4 359.5 155.2 360.2 153.5C360.9 151.8 361.8 148.1 361.0 146.0C360.2 143.9 355.9 140.9 355.0 140.0C355.6 139.8 358.8 139.9 358.8 138.5C358.8 137.1 355.8 132.2 355.2 131.0Z" fill="#42c567" stroke="#42c567" stroke-width="0.6"/>
<path d="M572.5 320.5C573.0 320.8 574.8 321.0 576.0 322.5C577.2 324.0 578.7 328.2 580.5 330.0C582.3 331.8 585.0 333.3 588.0 334.5C591.0 335.7 596.5 336.8 600.0 337.5C603.5 338.2 609.0 339.5 610.5 339.0C612.0 338.5 609.3 335.3 609.8 334.5C610.3 333.7 612.9 334.6 613.5 333.8C614.1 333.0 612.1 329.3 613.5 329.2C614.9 329.1 620.9 333.1 622.5 333.0C624.1 332.9 622.6 329.8 624.0 328.5C625.4 327.2 629.2 325.7 631.5 324.8C633.8 323.9 636.9 323.4 639.0 322.5C641.1 321.6 642.7 319.5 645.0 318.8C647.3 318.1 651.2 317.8 654.0 318.0C656.8 318.2 660.7 319.0 663.0 320.2C665.3 321.4 667.6 323.5 669.0 325.5C670.4 327.5 671.5 331.2 672.0 333.0C672.5 334.8 671.5 336.5 672.0 337.5C672.5 338.5 674.8 338.0 675.0 339.8C675.2 341.6 673.7 346.4 673.5 349.5C673.3 352.6 673.9 357.2 673.5 360.0C673.1 362.8 672.4 365.9 671.2 367.5C670.0 369.1 668.6 369.8 666.0 370.5C663.4 371.2 657.2 371.5 654.0 372.0C650.8 372.5 647.3 373.0 645.0 373.5C642.7 374.0 640.6 374.3 639.0 375.0C637.4 375.7 635.7 376.5 634.5 378.0C633.3 379.5 632.5 382.6 631.0 384.8C629.5 387.0 625.9 391.1 625.0 392.2C623.9 391.6 620.0 389.3 618.0 388.0C616.0 386.7 613.4 384.5 612.2 384.0C611.0 383.5 611.7 384.3 610.0 384.8C608.3 385.3 603.3 386.8 601.0 387.0C598.7 387.2 596.6 386.0 595.0 386.2C593.4 386.4 592.1 388.4 590.5 388.5C588.9 388.6 586.1 387.9 584.5 387.0C582.9 386.1 581.4 383.4 580.0 382.5C578.6 381.6 576.7 381.8 575.5 381.0C574.3 380.2 573.8 377.7 572.5 377.2C571.2 376.7 567.7 377.7 566.8 377.8C567.1 376.6 568.6 372.6 568.8 370.0C569.0 367.4 567.8 363.3 568.0 361.0C568.2 358.7 569.7 357.1 570.2 355.0C570.7 352.9 571.6 349.3 571.0 347.5C570.4 345.7 567.4 344.6 566.5 343.0C565.6 341.4 566.0 338.3 565.0 337.0C564.0 335.7 560.3 336.0 559.8 334.8C559.3 333.6 561.9 331.1 562.0 329.5C562.1 327.9 560.7 325.0 560.5 324.2C561.9 323.7 567.7 321.8 569.5 321.2C571.3 320.6 572.0 320.6 572.5 320.5Z" fill="#50c96c" stroke="#50c96c" stroke-width="0.6"/>
<path d="M120.5 344.2C119.0 343.7 113.8 342.2 111.0 341.2C108.2 340.2 104.1 339.0 102.0 337.5C99.9 336.0 99.3 332.7 97.5 331.5C95.7 330.3 92.5 331.5 90.0 330.0C87.5 328.5 83.6 324.2 81.0 321.8C78.4 319.4 73.7 316.2 72.8 314.2C71.9 312.2 75.2 310.4 75.0 309.0C74.8 307.6 71.1 307.0 71.2 305.2C71.3 303.4 75.2 299.2 75.8 297.0C76.4 294.8 75.6 291.7 75.0 291.0C74.4 290.3 73.2 292.7 72.0 292.5C70.8 292.3 69.0 291.6 67.5 289.5C66.0 287.4 63.4 280.5 62.2 279.0C61.0 277.5 61.0 280.1 60.0 279.8C59.0 279.5 56.9 278.0 55.5 276.8C54.1 275.6 52.6 273.4 51.0 272.0C49.4 270.6 46.0 268.9 45.0 267.5C44.0 266.1 44.8 264.5 44.2 263.0C43.6 261.5 41.1 259.0 41.2 257.8C41.3 256.6 43.3 255.6 45.0 255.5C46.7 255.4 50.4 257.4 52.5 257.0C54.6 256.6 56.2 253.0 58.5 253.2C60.8 253.4 65.3 258.0 67.5 258.5C69.7 259.0 71.9 256.6 72.7 256.2C74.0 257.2 78.8 261.2 81.0 263.0C83.2 264.8 84.7 267.2 87.0 268.2C89.3 269.2 94.2 269.0 96.0 269.8C97.8 270.6 97.8 273.3 99.0 273.5C100.2 273.7 102.1 271.2 103.5 271.2C104.9 271.2 106.4 273.4 108.0 273.5C109.6 273.6 111.9 272.5 114.0 272.0C116.1 271.5 119.7 270.8 121.5 270.5C123.3 270.2 125.1 269.1 126.0 269.8C126.9 270.5 126.3 273.7 127.5 275.0C128.7 276.3 131.9 277.3 133.5 278.0C135.1 278.7 136.4 279.7 138.0 279.5C139.6 279.3 141.6 277.2 144.0 276.5C146.4 275.8 150.9 274.8 153.5 274.8C156.1 274.8 158.9 275.3 161.0 276.2C163.1 277.1 165.2 279.8 167.0 280.8C168.8 281.8 171.2 283.1 173.0 283.0C174.8 282.9 177.5 280.7 179.0 280.0C180.5 279.3 182.1 278.7 182.7 278.5C182.8 279.7 182.7 283.9 183.5 286.0C184.3 288.1 186.6 290.6 188.0 292.0C189.4 293.4 192.5 294.1 192.5 295.0C192.5 295.9 188.9 296.4 188.0 298.0C187.1 299.6 186.7 304.3 186.5 305.5C185.3 305.5 180.6 304.9 179.0 305.5C177.4 306.1 177.4 308.5 176.0 309.2C174.6 309.9 171.6 310.3 170.0 310.0C168.4 309.7 167.1 306.7 165.5 307.0C163.9 307.3 160.7 310.6 159.5 312.2C158.3 313.8 159.2 317.3 158.0 317.5C156.8 317.7 153.4 314.8 152.0 313.8C150.6 312.8 150.4 310.8 149.0 310.8C147.6 310.8 144.8 313.7 143.0 313.8C141.2 313.9 139.1 312.1 137.0 311.5C134.9 310.9 131.1 309.8 129.5 310.0C127.9 310.2 127.2 311.7 126.5 313.0C125.8 314.3 126.2 316.8 125.0 318.2C123.8 319.6 119.7 320.5 119.0 322.0C118.3 323.5 119.8 326.4 120.5 328.0C121.2 329.6 123.1 330.7 123.5 332.5C123.9 334.3 123.3 338.2 122.8 340.0C122.3 341.8 120.9 343.6 120.5 344.2Z" fill="#66d073" stroke="#66d073" stroke-width="0.6"/>
<path d="M404.0 474.7C403.5 474.9 402.4 475.7 401.0 476.2C399.6 476.7 397.1 477.2 395.0 477.8C392.9 478.4 389.6 479.8 387.5 480.0C385.4 480.2 383.3 479.8 381.5 479.2C379.7 478.6 378.0 477.1 375.5 476.2C373.0 475.3 368.5 473.9 365.0 473.2C361.5 472.5 356.2 471.9 353.0 471.8C349.8 471.7 346.3 472.2 344.0 472.5C341.7 472.8 339.6 474.3 338.0 474.0C336.4 473.7 334.0 471.0 333.3 470.5C333.3 470.6 332.5 471.7 333.5 471.0C334.5 470.3 339.0 467.2 339.5 465.8C340.0 464.4 337.9 463.7 336.5 462.0C335.1 460.3 331.7 456.8 330.5 454.5C329.3 452.2 327.6 448.8 329.0 447.0C330.4 445.2 337.0 443.7 339.5 442.5C342.0 441.3 344.7 441.6 345.5 439.5C346.3 437.4 344.8 432.8 344.8 429.0C344.8 425.2 345.5 417.2 345.6 415.0C347.0 414.9 351.5 414.7 354.5 414.2C357.5 413.7 361.9 412.8 365.0 412.0C368.1 411.2 373.2 409.5 374.7 409.0C375.3 408.8 377.0 408.5 378.5 407.5C380.0 406.5 382.8 402.7 384.5 402.2C386.2 401.7 388.9 403.9 389.7 404.2C389.5 405.9 387.8 412.4 388.2 415.0C388.6 417.6 390.0 419.6 392.0 421.0C394.0 422.4 399.2 422.6 401.0 424.0C402.8 425.4 403.8 429.0 404.0 430.0C404.2 431.0 403.2 429.0 402.5 430.5C401.8 432.0 399.7 436.5 399.5 439.5C399.3 442.5 400.9 447.2 401.0 450.0C401.1 452.8 400.0 455.2 400.2 457.5C400.4 459.8 401.9 462.4 402.5 465.0C403.1 467.6 403.8 473.2 404.0 474.7Z" fill="#b1e68a" stroke="#b1e68a" stroke-width="0.6"/>
<path d="M263.0 323.0C262.8 324.1 261.6 328.3 261.5 330.0C261.4 331.7 262.3 333.4 262.5 334.0C263.7 334.3 267.6 335.6 270.0 335.8C272.4 336.0 277.2 333.7 278.2 335.0C279.2 336.3 276.9 341.4 276.8 344.0C276.7 346.6 278.0 349.4 277.5 352.2C277.0 355.0 274.5 358.9 273.8 362.0C273.1 365.1 273.2 369.3 273.0 372.5C272.8 375.7 272.3 380.8 272.2 383.0C272.1 385.2 272.5 386.1 272.5 386.7C273.1 387.5 275.0 390.3 276.2 392.0C277.4 393.7 279.2 396.1 280.0 398.0C280.8 399.9 281.0 403.3 281.2 404.3C281.4 404.4 281.0 405.0 282.2 404.8C283.4 404.6 287.3 403.1 289.0 403.2C290.7 403.3 292.1 405.7 293.5 405.5C294.9 405.3 296.4 402.5 298.0 401.8C299.6 401.1 302.2 401.6 304.0 401.0C305.8 400.4 309.3 399.6 310.0 398.0C310.7 396.4 308.8 392.8 308.5 390.5C308.2 388.2 307.1 385.1 307.8 383.0C308.5 380.9 311.5 378.7 313.0 377.0C314.5 375.3 316.3 371.9 317.5 371.8C318.7 371.7 320.0 375.5 320.5 376.2C320.9 374.9 322.6 370.6 322.8 368.0C323.0 365.4 322.0 362.2 322.0 359.0C322.0 355.8 322.8 350.7 322.8 347.0C322.8 343.3 321.8 340.2 322.3 335.0C322.8 329.8 325.4 316.8 326.0 313.5C324.6 313.4 320.2 312.7 317.0 312.8C313.8 312.9 308.7 313.5 305.0 314.2C301.3 314.9 296.7 316.8 293.0 317.2C289.3 317.6 284.2 316.1 281.0 316.5C277.8 316.9 274.8 318.5 272.0 319.5C269.2 320.5 264.4 322.5 263.0 323.0Z" fill="#4dc86b" stroke="#4dc86b" stroke-width="0.6"/>
<path d="M522.0 262.0L523.5 266.5C522.6 266.6 520.0 266.6 517.5 267.2C515.0 267.8 508.7 268.9 507.0 270.2C505.3 271.5 505.7 273.8 506.2 275.5C506.7 277.2 508.7 279.0 510.0 281.5C511.3 284.0 513.1 289.2 514.5 292.0C515.9 294.8 517.4 297.2 519.0 299.5C520.6 301.8 524.5 306.3 525.0 307.0C525.5 307.7 522.0 303.3 522.2 304.0C522.4 304.7 525.0 309.1 526.0 311.5C527.0 313.9 528.5 318.4 529.0 319.7C528.1 320.2 524.8 321.6 523.0 322.8C521.2 324.0 518.3 326.9 517.5 327.7C516.3 327.4 512.5 326.3 510.0 325.5C507.5 324.7 503.3 322.9 501.0 322.5C498.7 322.1 496.8 323.7 495.0 323.2C493.2 322.7 490.8 320.3 489.0 319.5C487.2 318.7 485.3 318.7 483.0 318.0C480.7 317.3 476.1 316.0 474.0 315.0C471.9 314.0 471.6 312.4 469.5 311.2C467.4 310.0 462.8 309.0 460.5 307.5C458.2 306.0 456.1 303.1 454.5 301.5C452.9 299.9 450.7 297.7 450.0 297.0C450.0 295.8 450.2 292.3 450.0 289.5C449.8 286.7 448.6 280.2 448.5 279.0C448.4 277.8 449.1 282.0 449.5 281.5C449.9 281.0 451.0 277.6 451.0 275.5C451.0 273.4 449.7 269.2 449.5 268.0C450.2 268.5 452.4 270.3 454.0 271.0C455.6 271.7 458.6 271.8 460.0 272.5C461.4 273.2 462.1 275.7 463.0 275.5C463.9 275.3 464.2 271.9 466.0 271.0C467.8 270.1 472.2 269.6 475.0 269.5C477.8 269.4 481.2 270.4 484.0 270.2C486.8 270.0 490.5 268.6 493.0 268.0C495.5 267.4 498.6 267.3 500.5 266.5C502.4 265.7 504.0 264.0 505.5 262.8C507.0 261.6 508.4 259.4 510.0 259.0C511.6 258.6 514.2 260.0 516.0 260.5C517.8 261.0 521.1 261.8 522.0 262.0Z" fill="#5bcc6f" stroke="#5bcc6f" stroke-width="0.6"/>
<path d="M558.0 202.0C558.7 202.7 561.3 204.9 562.5 206.5C563.7 208.1 564.6 210.7 565.5 212.5C566.4 214.3 568.0 216.7 568.5 218.5C569.0 220.3 568.3 222.7 568.5 224.5C568.7 226.3 569.5 228.7 570.0 230.5C570.5 232.3 571.5 235.8 571.5 236.5C571.5 237.2 570.5 233.8 570.0 235.0C569.5 236.2 569.4 241.5 568.5 244.0C567.6 246.5 564.5 249.4 564.0 251.5C563.5 253.6 565.6 255.7 565.5 257.5C565.4 259.3 563.6 262.6 563.2 263.5C561.9 263.4 557.6 263.0 555.0 262.8C552.4 262.6 547.8 261.7 546.0 262.0C544.2 262.3 544.8 264.7 543.0 265.0C541.2 265.3 536.3 264.5 534.0 264.2C531.7 263.9 528.6 262.2 528.0 262.8C527.4 263.4 529.7 266.2 530.2 268.0C530.7 269.8 531.6 273.9 531.0 274.8C530.4 275.7 527.7 275.3 526.5 274.0C525.3 272.7 524.0 267.7 523.5 266.5L522.0 262.0C521.9 260.8 521.5 257.3 521.2 254.5C520.9 251.7 520.6 246.5 519.8 244.0C519.0 241.5 517.0 240.1 516.0 238.0C515.0 235.9 513.9 232.8 513.0 230.5C512.1 228.2 510.8 225.2 510.0 223.0C509.2 220.8 509.0 217.7 507.8 216.2C506.6 214.7 503.1 213.5 502.2 213.0L502.5 202.2C503.7 202.0 507.5 201.5 510.0 201.2C512.5 200.9 516.9 201.0 519.0 200.5C521.1 200.0 521.9 198.3 523.5 198.2C525.1 198.1 528.3 200.1 529.5 199.8C530.7 199.5 531.5 197.3 531.0 196.0C530.5 194.7 526.3 191.8 526.5 191.5C526.7 191.2 530.9 193.1 532.5 193.8C534.1 194.5 535.8 195.0 537.0 196.0C538.2 197.0 538.6 199.2 540.0 200.5C541.4 201.8 544.2 203.7 546.0 204.2C547.8 204.7 550.2 203.8 552.0 203.5C553.8 203.2 557.1 202.2 558.0 202.0Z" fill="#57cb6e" stroke="#57cb6e" stroke-width="0.6"/>
</g>
<g fill="none" stroke="#7d8780" stroke-width="1.7" stroke-linejoin="round" stroke-linecap="round">
<path d="M172.7 138.0C173.7 136.7 177.8 131.1 179.5 129.3C181.2 127.5 182.0 127.2 184.0 126.0C186.0 124.8 188.3 123.0 192.2 121.8C196.1 120.6 205.9 119.9 209.5 118.5C213.1 117.1 213.7 113.7 215.5 112.5C217.3 111.3 220.3 112.2 221.5 111.0C222.7 109.8 221.4 105.8 223.0 105.0C224.6 104.2 229.7 106.8 232.0 105.8C234.3 104.8 236.4 99.2 238.0 98.2C239.6 97.2 241.3 98.4 242.2 99.0C243.1 99.6 242.8 101.1 244.0 102.0C245.2 102.9 248.2 103.8 250.0 105.0C251.8 106.2 254.4 108.8 256.0 109.5C257.6 110.2 259.8 109.5 260.5 109.5"/>
<path d="M260.5 109.5C260.5 108.7 260.1 104.9 260.8 104.3C261.5 103.7 263.2 105.0 265.0 105.5C266.8 106.0 270.2 106.6 272.5 107.3C274.8 108.0 276.8 109.3 280.0 110.0C283.2 110.7 289.3 111.2 293.5 111.8C297.7 112.4 303.5 114.2 307.0 114.2C310.5 114.2 314.2 112.6 316.0 111.8C317.8 111.0 318.0 109.0 318.7 108.8C319.4 108.6 318.8 110.4 320.5 110.8C322.2 111.2 327.4 110.2 329.5 111.2C331.6 112.2 332.4 115.8 334.0 117.5C335.6 119.2 338.2 120.5 340.0 122.0C341.8 123.5 343.7 125.8 346.0 127.2C348.3 128.6 353.8 130.4 355.2 131.0"/>
<path d="M355.2 131.0C356.2 130.6 359.6 130.0 361.5 128.5C363.4 127.0 365.7 122.8 367.5 121.0C369.3 119.2 371.2 117.4 373.5 116.5C375.8 115.6 378.8 115.6 382.5 115.0C386.2 114.4 392.9 113.6 397.5 112.8C402.1 112.0 407.9 110.4 412.5 109.8C417.1 109.2 425.2 109.1 427.5 109.0"/>
<path d="M427.5 109.0C428.8 108.0 434.2 104.7 436.0 102.5C437.8 100.3 438.1 96.8 439.0 95.0C439.9 93.2 440.4 91.4 442.0 90.5C443.6 89.6 447.2 89.7 449.5 89.0C451.8 88.3 454.9 86.7 457.0 86.0C459.1 85.3 460.7 84.5 463.0 84.5C465.3 84.5 469.7 85.2 472.0 86.0C474.3 86.8 476.4 88.4 478.0 89.8C479.6 91.2 481.1 93.7 482.5 95.0C483.9 96.3 485.6 96.7 487.0 98.0C488.4 99.3 490.3 101.5 491.5 103.2C492.7 104.9 493.8 107.5 494.5 109.2C495.2 110.9 495.1 112.8 496.0 114.5C496.9 116.2 499.3 118.4 500.5 120.5C501.7 122.6 503.3 126.4 503.5 128.0C503.7 129.6 501.8 129.8 502.0 131.0C502.2 132.2 504.1 134.2 505.0 135.5C505.9 136.8 507.5 138.6 508.0 139.2"/>
<path d="M508.0 139.2C508.9 140.0 512.2 142.8 514.0 144.5C515.8 146.2 518.2 148.4 520.0 150.5C521.8 152.6 525.2 156.5 526.0 158.0C526.8 159.5 524.0 159.0 525.0 160.0C526.0 161.0 530.7 162.9 532.5 164.5C534.3 166.1 535.8 168.4 537.0 170.5C538.2 172.6 538.4 176.2 540.0 178.0C541.6 179.8 545.4 181.1 547.5 182.5C549.6 183.9 551.9 185.5 553.5 187.0C555.1 188.5 557.2 190.4 558.0 192.2C558.8 194.0 558.8 197.5 558.8 199.0C558.8 200.5 558.1 201.5 558.0 202.0"/>
<path d="M558.0 202.0C558.7 202.7 561.3 204.9 562.5 206.5C563.7 208.1 564.6 210.7 565.5 212.5C566.4 214.3 568.0 216.7 568.5 218.5C569.0 220.3 568.3 222.7 568.5 224.5C568.7 226.3 569.5 228.7 570.0 230.5C570.5 232.3 571.5 235.8 571.5 236.5C571.5 237.2 570.5 233.8 570.0 235.0C569.5 236.2 569.4 241.5 568.5 244.0C567.6 246.5 564.5 249.4 564.0 251.5C563.5 253.6 565.6 255.7 565.5 257.5C565.4 259.3 563.6 262.6 563.2 263.5"/>
<path d="M563.2 263.5C563.1 264.7 562.3 268.5 562.5 271.0C562.7 273.5 564.2 277.5 564.8 280.0C565.4 282.5 566.1 285.2 566.2 287.5C566.3 289.8 565.1 292.9 565.5 295.0C565.9 297.1 567.9 299.3 568.5 301.0C569.1 302.7 569.7 305.0 569.2 306.2C568.7 307.4 565.7 307.7 565.5 308.5C565.3 309.3 567.2 310.1 568.0 311.5C568.8 312.9 570.3 316.1 571.0 317.5C571.7 318.9 572.3 320.0 572.5 320.5"/>
<path d="M572.5 320.5C573.0 320.8 574.8 321.0 576.0 322.5C577.2 324.0 578.7 328.2 580.5 330.0C582.3 331.8 585.0 333.3 588.0 334.5C591.0 335.7 596.5 336.8 600.0 337.5C603.5 338.2 609.0 339.5 610.5 339.0C612.0 338.5 609.3 335.3 609.8 334.5C610.3 333.7 612.9 334.6 613.5 333.8C614.1 333.0 612.1 329.3 613.5 329.2C614.9 329.1 620.9 333.1 622.5 333.0C624.1 332.9 622.6 329.8 624.0 328.5C625.4 327.2 629.2 325.7 631.5 324.8C633.8 323.9 636.9 323.4 639.0 322.5C641.1 321.6 642.7 319.5 645.0 318.8C647.3 318.1 651.2 317.8 654.0 318.0C656.8 318.2 660.7 319.0 663.0 320.2C665.3 321.4 667.6 323.5 669.0 325.5C670.4 327.5 671.5 331.2 672.0 333.0C672.5 334.8 671.5 336.5 672.0 337.5C672.5 338.5 674.8 338.0 675.0 339.8C675.2 341.6 673.7 346.4 673.5 349.5C673.3 352.6 673.9 357.2 673.5 360.0C673.1 362.8 672.4 365.9 671.2 367.5C670.0 369.1 668.6 369.8 666.0 370.5C663.4 371.2 657.2 371.5 654.0 372.0C650.8 372.5 647.3 373.0 645.0 373.5C642.7 374.0 640.6 374.3 639.0 375.0C637.4 375.7 635.7 376.5 634.5 378.0C633.3 379.5 632.5 382.6 631.0 384.8C629.5 387.0 625.9 391.1 625.0 392.2"/>
<path d="M625.0 392.2C624.5 393.0 623.2 396.0 622.0 397.5C620.8 399.0 618.9 400.6 617.5 402.0C616.1 403.4 614.2 405.0 613.0 406.5C611.8 408.0 610.9 410.2 610.0 411.8C609.1 413.4 607.3 415.3 607.0 417.0C606.7 418.7 607.8 421.2 607.8 423.0C607.8 424.8 606.8 427.2 607.0 429.0C607.2 430.8 608.8 433.2 609.2 435.0C609.6 436.8 610.1 438.7 609.8 441.0C609.5 443.3 608.2 447.5 607.5 450.0C606.8 452.5 605.7 455.0 605.2 457.5C604.7 460.0 606.2 465.0 604.5 466.5C602.8 468.0 597.0 467.4 594.0 467.2C591.0 467.0 587.5 465.7 585.0 465.0C582.5 464.3 579.8 463.5 577.5 462.8C575.2 462.1 572.1 461.5 570.0 460.5C567.9 459.5 565.4 457.5 564.0 456.0C562.6 454.5 561.7 452.3 561.0 450.8C560.3 449.3 560.9 446.7 559.5 446.2C558.1 445.7 554.3 447.6 552.0 447.8C549.7 448.0 546.3 448.6 544.5 447.8C542.7 447.0 541.2 443.1 540.0 442.5C538.8 441.9 538.6 443.6 537.0 444.0C535.4 444.4 531.8 444.9 529.5 444.8C527.2 444.7 523.8 443.9 522.0 443.2C520.2 442.5 518.5 441.2 517.5 440.2C516.5 439.2 515.8 437.0 515.5 436.4"/>
<path d="M515.5 436.4C514.7 436.3 512.0 435.7 510.0 435.5C508.0 435.3 505.3 434.7 502.5 434.8C499.7 434.9 494.8 435.6 492.0 436.2C489.2 436.8 486.3 438.1 484.5 438.5C482.7 438.9 482.7 438.0 480.5 438.5C478.3 439.0 473.6 440.6 470.0 441.5C466.4 442.4 459.2 444.0 457.2 444.5"/>
<path d="M457.2 444.5C455.5 444.8 448.6 445.9 446.0 446.5C443.4 447.1 442.1 447.7 440.0 448.5C437.9 449.3 434.6 450.3 432.5 451.5C430.4 452.7 428.1 454.6 426.5 456.0C424.9 457.4 423.4 458.9 422.0 460.5C420.6 462.1 419.1 464.9 417.5 466.5C415.9 468.1 413.6 469.7 411.5 471.0C409.4 472.3 405.2 474.1 404.0 474.7"/>
<path d="M404.0 474.7C403.5 474.9 402.4 475.7 401.0 476.2C399.6 476.7 397.1 477.2 395.0 477.8C392.9 478.4 389.6 479.8 387.5 480.0C385.4 480.2 383.3 479.8 381.5 479.2C379.7 478.6 378.0 477.1 375.5 476.2C373.0 475.3 368.5 473.9 365.0 473.2C361.5 472.5 356.2 471.9 353.0 471.8C349.8 471.7 346.3 472.2 344.0 472.5C341.7 472.8 339.6 474.3 338.0 474.0C336.4 473.7 334.0 471.0 333.3 470.5"/>
<path d="M333.3 470.5C332.9 470.2 332.7 468.7 331.0 468.5C329.3 468.3 324.8 469.0 322.0 469.2C319.2 469.4 316.0 469.5 313.0 470.0C310.0 470.5 305.0 471.7 302.5 472.2C300.0 472.7 297.4 472.9 296.5 473.0"/>
<path d="M296.5 473.0C294.0 472.3 284.8 469.9 280.0 468.5C275.2 467.1 269.6 465.4 265.0 464.0C260.4 462.6 255.4 460.1 250.0 459.5C244.6 458.9 235.4 460.2 230.0 460.0C224.6 459.8 218.0 459.3 215.0 458.5C212.0 457.7 211.2 456.1 210.5 454.8C209.8 453.5 209.6 451.5 210.5 450.2C211.4 448.9 214.7 447.6 216.5 446.5C218.3 445.4 221.7 444.2 222.5 442.8C223.3 441.4 221.8 438.3 221.7 437.5"/>
<path d="M221.7 437.5C220.7 437.3 217.0 436.7 215.0 436.0C213.0 435.3 211.3 434.3 209.0 433.0C206.7 431.7 201.6 429.1 200.0 427.8C198.4 426.5 199.7 425.8 198.5 424.8C197.3 423.8 194.3 422.3 192.5 421.0C190.7 419.7 187.3 418.1 186.5 416.5C185.7 414.9 187.4 412.2 187.2 410.5C187.0 408.8 184.9 406.6 185.0 405.2C185.1 403.8 186.8 402.4 188.0 401.5C189.2 400.6 190.3 399.3 192.5 399.2C194.7 399.1 200.7 401.0 202.2 400.8C203.7 400.6 203.2 399.1 202.2 397.8C201.2 396.5 197.6 393.9 195.5 392.5C193.4 391.1 190.3 390.1 188.5 389.0C186.7 387.9 185.6 385.3 184.0 385.2C182.4 385.1 180.1 386.7 178.0 388.2C175.9 389.7 172.3 393.0 170.5 395.0C168.7 397.0 167.4 399.7 166.0 401.0C164.6 402.3 162.7 403.4 161.5 403.2C160.3 403.0 159.3 400.9 158.5 399.5C157.7 398.1 156.6 395.0 156.2 394.2"/>
<path d="M156.2 394.2C155.4 393.7 153.2 392.0 151.0 391.2C148.8 390.4 145.5 389.7 142.0 389.0C138.5 388.3 131.3 388.2 128.5 386.8C125.7 385.4 126.3 381.7 124.0 380.0C121.7 378.3 115.6 376.9 113.5 375.5C111.4 374.1 109.8 372.0 110.5 371.0C111.2 370.0 116.3 369.6 118.0 368.8C119.7 368.0 122.0 367.0 121.8 365.8C121.6 364.6 118.0 362.5 116.5 361.2C115.0 359.9 112.0 359.2 112.0 357.5C112.0 355.8 115.2 352.0 116.5 350.0C117.8 348.0 119.9 345.1 120.5 344.2"/>
<path d="M120.5 344.2C119.0 343.7 113.8 342.2 111.0 341.2C108.2 340.2 104.1 339.0 102.0 337.5C99.9 336.0 99.3 332.7 97.5 331.5C95.7 330.3 92.5 331.5 90.0 330.0C87.5 328.5 83.6 324.2 81.0 321.8C78.4 319.4 73.7 316.2 72.8 314.2C71.9 312.2 75.2 310.4 75.0 309.0C74.8 307.6 71.1 307.0 71.2 305.2C71.3 303.4 75.2 299.2 75.8 297.0C76.4 294.8 75.6 291.7 75.0 291.0C74.4 290.3 73.2 292.7 72.0 292.5C70.8 292.3 69.0 291.6 67.5 289.5C66.0 287.4 63.4 280.5 62.2 279.0C61.0 277.5 61.0 280.1 60.0 279.8C59.0 279.5 56.9 278.0 55.5 276.8C54.1 275.6 52.6 273.4 51.0 272.0C49.4 270.6 46.0 268.9 45.0 267.5C44.0 266.1 44.8 264.5 44.2 263.0C43.6 261.5 41.1 259.0 41.2 257.8C41.3 256.6 43.3 255.6 45.0 255.5C46.7 255.4 50.4 257.4 52.5 257.0C54.6 256.6 56.2 253.0 58.5 253.2C60.8 253.4 65.3 258.0 67.5 258.5C69.7 259.0 71.9 256.6 72.7 256.2"/>
<path d="M72.7 256.2C73.2 255.1 74.5 250.2 75.8 248.8C77.1 247.4 79.3 247.1 81.0 247.2C82.7 247.3 85.2 249.3 87.0 249.5C88.8 249.7 91.4 248.8 93.0 248.8C94.6 248.8 95.8 250.3 97.5 249.5C99.2 248.7 102.8 245.3 104.2 243.5C105.6 241.7 105.2 238.8 106.5 237.5C107.8 236.2 111.9 236.7 112.5 235.2C113.1 233.7 110.0 230.2 110.2 227.8C110.4 225.4 112.2 221.0 114.0 219.5C115.8 218.0 120.9 218.2 122.2 218.0"/>
<path d="M122.2 218.0C121.9 217.5 119.4 215.8 120.0 215.0C120.6 214.2 125.2 214.1 126.0 212.8C126.8 211.5 124.9 208.2 125.2 206.8C125.5 205.4 126.6 204.8 127.8 203.5C129.0 202.2 132.3 199.6 133.0 198.2C133.7 196.8 131.4 196.0 132.2 194.5C133.0 193.0 137.4 190.3 138.2 188.5C139.0 186.7 136.5 184.6 137.5 182.5C138.5 180.4 143.2 176.6 145.0 175.0C146.8 173.4 148.6 173.3 149.5 172.0C150.4 170.7 149.8 168.9 151.0 166.8C152.2 164.7 155.2 160.7 157.0 158.5C158.8 156.3 162.1 154.6 163.0 152.5C163.9 150.4 162.1 147.0 163.0 145.0C163.9 143.0 167.5 140.9 169.0 139.8C170.5 138.7 172.1 138.3 172.7 138.0"/>
<path d="M260.5 109.5C261.8 110.8 268.6 115.5 268.8 117.8C269.0 120.1 265.9 123.2 262.0 124.5C258.1 125.8 246.3 125.2 243.2 126.0C240.1 126.8 241.0 128.4 241.8 129.8C242.6 131.2 247.9 132.5 248.5 135.0C249.1 137.5 247.6 145.6 245.5 146.2C243.4 146.8 237.3 139.4 235.0 138.8C232.7 138.2 231.8 140.7 230.5 142.5C229.2 144.3 227.0 149.2 226.8 150.8C226.6 152.4 228.7 152.7 229.0 153.0"/>
<path d="M229.0 153.0C229.4 153.5 231.6 155.5 231.8 156.5C232.0 157.5 231.6 159.7 230.6 159.7C229.6 159.7 227.0 156.9 225.0 156.2C223.0 155.5 220.7 155.4 217.5 155.4C214.3 155.4 206.8 155.4 204.0 156.2C201.2 157.0 200.3 159.8 199.6 160.4"/>
<path d="M199.6 160.4C199.0 159.7 197.6 157.1 196.0 156.0C194.4 154.9 191.0 153.9 189.2 153.0C187.4 152.1 185.7 151.6 184.0 150.0C182.3 148.4 179.7 144.3 178.0 142.5C176.3 140.7 173.5 138.7 172.7 138.0"/>
<path d="M229.0 153.0C231.2 153.3 239.0 154.2 243.0 155.0C247.0 155.8 251.8 157.1 255.0 158.0C258.2 158.9 261.2 160.1 264.0 161.0C266.8 161.9 270.9 163.8 273.0 164.0C275.1 164.2 276.5 162.7 277.5 162.5C278.5 162.3 279.2 162.9 279.5 163.0"/>
<path d="M279.5 163.0C280.5 163.0 284.0 163.1 286.0 162.8C288.0 162.5 291.7 161.3 292.7 161.0"/>
<path d="M292.7 161.0C293.3 160.1 295.2 156.6 296.5 155.0C297.8 153.4 298.9 152.0 301.0 150.5C303.1 149.0 307.7 146.6 310.0 145.2C312.3 143.8 313.2 141.7 316.0 141.5C318.8 141.3 324.3 143.6 328.0 143.8C331.7 144.0 335.8 143.6 340.0 143.0C344.2 142.4 352.7 140.5 355.0 140.0"/>
<path d="M355.2 131.0C355.8 132.2 358.8 137.1 358.8 138.5C358.8 139.9 355.6 139.8 355.0 140.0"/>
<path d="M199.6 160.4C199.5 161.1 199.7 163.0 198.8 164.8C197.9 166.6 193.9 170.2 193.5 172.2C193.1 174.2 195.6 175.7 196.5 177.5C197.4 179.3 198.2 182.8 199.5 184.2C200.8 185.6 203.5 185.3 204.8 186.5C206.1 187.7 207.3 190.9 207.7 191.7"/>
<path d="M207.7 191.7C209.0 192.1 214.1 193.1 216.0 194.0C217.9 194.9 217.7 196.8 219.8 197.8C221.9 198.8 226.5 200.1 229.5 200.8C232.5 201.5 237.5 202.9 239.2 202.2C240.9 201.5 239.8 196.9 240.8 196.2C241.8 195.5 244.5 197.9 246.0 197.8C247.5 197.7 249.3 196.5 250.5 195.5C251.7 194.5 252.8 192.6 253.5 191.0C254.2 189.4 253.8 186.6 255.0 185.0C256.2 183.4 258.9 182.0 261.0 180.5C263.1 179.0 266.2 176.6 268.5 175.2C270.8 173.8 274.3 172.6 276.0 171.5C277.7 170.4 279.3 169.1 279.8 167.8C280.3 166.5 279.5 163.7 279.5 163.0"/>
<path d="M207.7 191.7C207.8 192.5 208.1 195.3 208.5 197.0C208.9 198.7 210.9 201.3 210.0 203.0C209.1 204.7 203.4 206.4 202.5 208.2C201.6 210.0 203.3 212.7 204.0 215.0C204.7 217.3 205.8 221.1 207.0 222.9C208.2 224.7 211.0 226.4 211.7 227.0"/>
<path d="M122.2 218.0C124.1 218.0 130.3 218.0 134.5 218.0C138.7 218.0 144.9 217.2 149.5 217.7C154.1 218.2 161.3 219.7 164.5 221.0C167.7 222.3 168.9 224.4 170.5 226.2C172.1 228.0 172.7 230.9 175.0 233.0C177.3 235.1 182.7 238.3 185.5 239.8C188.3 241.3 190.2 242.1 193.0 242.8C195.8 243.5 201.9 244.0 203.5 244.2"/>
<path d="M203.5 244.2C203.4 243.4 202.6 241.3 202.8 239.0C203.0 236.7 203.6 231.0 205.0 229.2C206.4 227.4 210.7 227.3 211.7 227.0"/>
<path d="M203.5 244.2L208.0 245.7"/>
<path d="M211.7 227.0C213.0 227.5 217.6 228.6 220.0 230.0C222.4 231.4 225.4 235.7 227.5 236.0C229.6 236.3 231.6 232.6 233.5 232.2C235.4 231.8 237.6 233.9 240.0 233.5C242.4 233.1 246.7 230.2 249.0 229.8C251.3 229.4 252.9 230.4 255.0 231.2C257.1 232.0 261.0 233.4 262.5 235.0C264.0 236.6 263.6 241.2 264.8 241.8C266.0 242.4 267.6 239.4 270.0 238.8C272.4 238.2 277.7 238.5 280.5 238.0C283.3 237.5 286.8 236.1 288.0 235.7"/>
<path d="M292.7 161.0C291.9 162.0 287.9 165.7 287.2 167.8C286.5 169.9 287.0 172.8 288.0 174.5C289.0 176.2 292.2 177.6 294.0 179.0C295.8 180.4 298.6 181.8 300.0 183.5C301.4 185.2 302.0 187.8 303.0 190.0C304.0 192.2 306.6 195.0 306.8 197.5C307.0 200.0 304.9 205.1 304.5 206.5"/>
<path d="M288.0 235.7C288.3 234.7 289.3 231.0 290.2 229.0C291.1 227.0 292.7 225.1 294.0 223.0C295.3 220.9 297.6 217.3 298.5 215.5C299.4 213.7 299.1 212.4 300.0 211.0C300.9 209.6 303.8 207.2 304.5 206.5"/>
<path d="M304.5 206.5C305.2 207.1 307.2 209.3 309.0 210.2C310.8 211.1 314.5 212.5 316.5 212.5C318.5 212.5 320.5 212.0 322.0 210.5C323.5 209.0 324.9 205.0 326.5 203.0C328.1 201.0 330.9 198.0 332.5 197.8C334.1 197.6 336.0 201.3 337.0 201.5C338.0 201.7 338.3 200.8 339.2 199.2C340.1 197.6 341.7 193.2 343.0 191.0C344.3 188.8 345.9 186.3 347.5 185.0C349.1 183.7 351.4 183.3 353.5 182.8C355.6 182.3 359.8 182.1 361.0 182.0"/>
<path d="M355.0 140.0C355.9 140.9 360.2 143.9 361.0 146.0C361.8 148.1 360.9 151.8 360.2 153.5C359.5 155.2 356.6 155.4 356.5 157.2C356.4 159.0 358.7 162.8 359.5 165.5C360.3 168.2 361.6 172.0 361.8 174.5C362.0 177.0 361.1 180.8 361.0 182.0"/>
<path d="M361.0 182.0C361.9 182.2 365.4 183.0 367.0 183.5C368.6 184.0 370.8 184.8 371.5 185.0"/>
<path d="M371.5 185.0C372.0 185.9 373.8 188.7 374.5 191.0C375.2 193.3 376.2 197.7 376.0 200.0C375.8 202.3 373.0 204.2 373.0 206.0C373.0 207.8 375.7 212.2 376.0 212.0C376.3 211.8 374.9 204.9 374.8 205.0C374.7 205.1 375.9 210.2 375.5 212.5C375.1 214.8 373.7 217.7 372.5 220.0C371.3 222.3 370.1 225.5 368.0 227.5C365.9 229.5 360.8 231.0 359.0 232.8C357.2 234.6 357.2 238.0 356.0 239.5C354.8 241.0 351.7 241.6 351.5 242.5C351.3 243.4 355.0 244.5 354.5 245.5C354.0 246.5 348.6 247.8 348.5 249.2C348.4 250.6 351.7 253.5 353.8 254.5C355.9 255.5 360.3 254.8 362.0 256.0C363.7 257.2 364.5 261.1 365.0 262.0"/>
<path d="M371.5 185.0C372.2 184.4 374.4 182.2 376.0 181.2C377.6 180.2 380.2 177.8 382.0 178.2C383.8 178.6 386.2 182.2 388.0 183.5C389.8 184.8 392.2 186.3 394.0 186.5C395.8 186.7 399.1 185.2 400.0 185.0"/>
<path d="M400.0 185.0C400.5 183.8 401.6 179.5 403.0 177.5C404.4 175.5 408.3 173.8 409.0 172.2C409.7 170.6 407.3 168.1 407.5 167.0C407.7 165.9 409.3 164.5 410.5 164.8C411.7 165.1 412.9 168.9 415.0 169.2C417.1 169.5 421.8 167.3 424.0 167.0C426.2 166.7 426.6 167.3 429.0 167.0C431.4 166.7 436.5 165.3 439.5 164.8C442.5 164.3 446.1 163.4 448.5 164.0C450.9 164.6 454.2 167.8 455.2 168.5"/>
<path d="M400.0 185.0C400.7 185.7 403.3 188.0 404.5 189.5C405.7 191.0 406.6 193.5 407.5 194.8C408.4 196.1 410.3 196.3 410.5 197.8C410.7 199.3 408.8 202.3 409.0 204.5C409.2 206.7 411.7 211.0 412.0 212.0C412.3 213.0 411.4 210.2 411.2 211.0C411.0 211.8 409.7 215.7 410.5 217.0C411.3 218.3 414.8 219.0 416.5 219.2C418.2 219.4 420.9 218.6 421.7 218.5"/>
<path d="M427.5 109.0C428.2 109.8 430.4 112.9 432.0 114.2C433.6 115.5 436.2 115.7 438.0 117.2C439.8 118.7 443.2 122.8 444.0 124.0C444.8 125.2 442.2 123.2 443.5 125.0C444.8 126.8 450.2 132.7 452.5 135.5C454.8 138.3 457.3 140.9 458.5 143.0C459.7 145.1 459.4 147.4 460.0 149.0C460.6 150.6 461.9 152.8 462.2 153.5"/>
<path d="M508.0 139.2C507.3 139.8 504.4 141.8 503.5 143.0C502.6 144.2 503.6 146.3 502.0 146.8C500.4 147.3 494.8 145.4 493.0 146.0C491.2 146.6 491.2 150.3 490.0 150.5C488.8 150.7 487.6 147.7 485.5 147.5C483.4 147.3 479.0 149.2 476.5 149.0C474.0 148.8 470.6 145.5 469.0 146.0C467.4 146.5 467.0 150.8 466.0 152.0C465.0 153.2 462.8 153.3 462.2 153.5"/>
<path d="M462.2 153.5C462.6 154.0 465.3 155.3 465.0 156.5C464.7 157.7 462.2 160.5 460.5 161.0C458.8 161.5 455.1 159.3 453.8 159.5C452.5 159.7 451.7 161.6 452.2 162.5C452.7 163.4 456.3 164.6 456.8 165.5C457.3 166.4 455.4 168.0 455.2 168.5"/>
<path d="M455.2 168.5C456.0 169.4 459.2 172.3 460.5 174.5C461.8 176.7 461.7 181.2 463.5 182.8C465.3 184.4 470.3 183.9 472.5 185.0C474.7 186.1 476.2 189.5 477.8 190.2C479.4 190.9 481.7 190.3 483.0 189.5C484.3 188.7 484.6 186.2 486.0 185.0C487.4 183.8 490.2 182.1 492.0 182.0C493.8 181.9 496.4 182.8 498.0 184.2C499.6 185.6 502.7 189.5 502.5 191.0C502.3 192.5 497.2 192.6 496.5 194.0C495.8 195.4 497.1 198.7 498.0 200.0C498.9 201.3 501.8 201.9 502.5 202.2"/>
<path d="M502.5 202.2C503.7 202.0 507.5 201.5 510.0 201.2C512.5 200.9 516.9 201.0 519.0 200.5C521.1 200.0 521.9 198.3 523.5 198.2C525.1 198.1 528.3 200.1 529.5 199.8C530.7 199.5 531.5 197.3 531.0 196.0C530.5 194.7 526.3 191.8 526.5 191.5C526.7 191.2 530.9 193.1 532.5 193.8C534.1 194.5 535.8 195.0 537.0 196.0C538.2 197.0 538.6 199.2 540.0 200.5C541.4 201.8 544.2 203.7 546.0 204.2C547.8 204.7 550.2 203.8 552.0 203.5C553.8 203.2 557.1 202.2 558.0 202.0"/>
<path d="M502.5 202.2L502.2 213.0"/>
<path d="M421.7 218.5C423.0 218.5 427.6 218.9 430.0 218.5C432.4 218.1 435.7 215.7 437.5 216.2C439.3 216.7 440.4 220.7 442.0 221.5C443.6 222.3 446.4 222.2 448.0 221.5C449.6 220.8 450.7 217.9 452.5 217.0C454.3 216.1 457.9 215.4 460.0 215.5C462.1 215.6 464.7 218.4 466.0 217.8C467.3 217.2 466.8 212.2 468.2 211.8C469.6 211.4 473.3 215.9 475.0 215.5C476.7 215.1 478.3 210.2 479.5 209.5C480.7 208.8 480.9 210.5 482.5 211.0C484.1 211.5 487.9 212.2 490.0 212.5C492.1 212.8 494.1 213.1 496.0 213.2C497.9 213.3 501.2 213.0 502.2 213.0"/>
<path d="M502.2 213.0C503.1 213.5 506.6 214.7 507.8 216.2C509.0 217.7 509.2 220.8 510.0 223.0C510.8 225.2 512.1 228.2 513.0 230.5C513.9 232.8 515.0 235.9 516.0 238.0C517.0 240.1 519.0 241.5 519.8 244.0C520.6 246.5 520.9 251.7 521.2 254.5C521.5 257.3 521.9 260.8 522.0 262.0"/>
<path d="M522.0 262.0L523.5 266.5"/>
<path d="M523.5 266.5C524.0 267.7 525.3 272.7 526.5 274.0C527.7 275.3 530.4 275.7 531.0 274.8C531.6 273.9 530.7 269.8 530.2 268.0C529.7 266.2 527.4 263.4 528.0 262.8C528.6 262.2 531.7 263.9 534.0 264.2C536.3 264.5 541.2 265.3 543.0 265.0C544.8 264.7 544.2 262.3 546.0 262.0C547.8 261.7 552.4 262.6 555.0 262.8C557.6 263.0 561.9 263.4 563.2 263.5"/>
<path d="M523.5 266.5C522.6 266.6 520.0 266.6 517.5 267.2C515.0 267.8 508.7 268.9 507.0 270.2C505.3 271.5 505.7 273.8 506.2 275.5C506.7 277.2 508.7 279.0 510.0 281.5C511.3 284.0 513.1 289.2 514.5 292.0C515.9 294.8 517.4 297.2 519.0 299.5C520.6 301.8 524.5 306.3 525.0 307.0C525.5 307.7 522.0 303.3 522.2 304.0C522.4 304.7 525.0 309.1 526.0 311.5C527.0 313.9 528.5 318.4 529.0 319.7"/>
<path d="M449.5 268.0C450.2 268.5 452.4 270.3 454.0 271.0C455.6 271.7 458.6 271.8 460.0 272.5C461.4 273.2 462.1 275.7 463.0 275.5C463.9 275.3 464.2 271.9 466.0 271.0C467.8 270.1 472.2 269.6 475.0 269.5C477.8 269.4 481.2 270.4 484.0 270.2C486.8 270.0 490.5 268.6 493.0 268.0C495.5 267.4 498.6 267.3 500.5 266.5C502.4 265.7 504.0 264.0 505.5 262.8C507.0 261.6 508.4 259.4 510.0 259.0C511.6 258.6 514.2 260.0 516.0 260.5C517.8 261.0 521.1 261.8 522.0 262.0"/>
<path d="M421.7 218.5C421.9 219.4 422.3 222.3 423.2 224.5C424.1 226.7 427.9 230.8 427.8 232.8C427.7 234.8 423.5 235.2 422.5 237.2C421.5 239.2 420.4 244.7 421.0 245.5C421.6 246.3 424.6 242.9 426.2 242.5C427.8 242.1 430.2 242.0 431.5 243.2C432.8 244.4 433.5 248.7 434.5 250.0C435.5 251.3 437.0 251.7 438.2 251.5C439.4 251.3 441.6 247.8 442.0 248.5C442.4 249.2 441.1 253.7 440.5 256.0C439.9 258.3 438.6 262.3 438.2 263.5"/>
<path d="M438.2 263.5C439.5 263.6 444.8 263.5 446.5 264.2C448.2 264.9 449.0 267.4 449.5 268.0"/>
<path d="M386.0 268.0C386.7 267.1 388.9 263.8 390.5 262.0C392.1 260.2 394.7 257.6 396.5 256.0C398.3 254.4 401.1 251.4 402.5 251.5C403.9 251.6 404.1 255.0 405.5 256.8C406.9 258.6 409.7 262.0 411.5 263.5C413.3 265.0 415.0 266.3 417.5 266.5C420.0 266.7 424.8 265.5 428.0 265.0C431.2 264.5 436.6 263.7 438.2 263.5"/>
<path d="M365.0 262.0C366.4 262.1 371.2 262.5 374.0 262.8C376.8 263.1 381.2 263.4 383.0 264.2C384.8 265.0 385.5 267.4 386.0 268.0"/>
<path d="M365.0 262.0C364.1 262.3 360.7 262.9 359.0 264.2C357.3 265.5 355.3 269.0 353.8 270.2C352.3 271.4 349.9 271.7 349.2 272.0"/>
<path d="M303.0 256.0C304.2 255.9 307.7 254.7 310.5 255.2C313.3 255.7 318.0 258.6 321.0 259.0C324.0 259.4 327.7 257.3 330.0 257.5C332.3 257.7 335.0 258.9 336.0 260.5C337.0 262.1 335.4 266.4 336.8 268.0C338.2 269.6 343.2 270.4 345.1 271.0C347.0 271.6 348.6 271.8 349.2 272.0"/>
<path d="M288.0 235.7C289.0 236.3 294.3 238.1 294.8 239.5C295.3 240.9 290.4 243.2 291.0 244.8C291.6 246.4 296.7 248.3 298.5 250.0C300.3 251.7 302.3 255.1 303.0 256.0"/>
<path d="M303.0 256.0C302.7 256.5 302.0 257.8 301.2 259.5C300.4 261.2 299.2 264.8 297.5 267.0C295.8 269.2 291.8 272.6 290.0 273.8C288.2 275.0 287.1 273.9 285.5 274.5C283.9 275.1 280.2 276.6 279.5 277.5C278.8 278.4 281.7 279.6 281.0 280.5C280.3 281.4 276.6 282.8 275.0 283.5C273.4 284.2 271.0 283.8 270.5 285.0C270.0 286.2 272.7 289.4 272.0 291.0C271.3 292.6 267.5 293.9 266.0 295.5C264.5 297.1 262.5 299.9 262.2 301.5C261.9 303.1 263.7 303.9 263.8 306.0C263.9 308.1 262.9 312.7 263.0 315.0C263.1 317.3 264.5 319.8 264.5 321.0C264.5 322.2 263.2 322.7 263.0 323.0"/>
<path d="M208.0 245.7C209.6 246.1 216.4 246.7 218.5 248.0C220.6 249.3 220.1 252.3 221.5 254.0C222.9 255.7 226.2 257.9 227.5 259.2C228.8 260.5 229.4 261.3 230.0 262.5C230.6 263.7 230.3 265.4 231.5 267.0C232.7 268.6 236.0 270.9 237.5 273.0C239.0 275.1 240.0 278.7 241.2 280.5C242.4 282.3 244.1 282.9 245.0 285.0C245.9 287.1 246.5 291.2 247.2 294.0C247.9 296.8 248.5 300.2 249.5 303.0C250.5 305.8 252.4 309.7 254.0 312.0C255.6 314.3 258.6 316.3 260.0 318.0C261.4 319.7 262.5 322.2 263.0 323.0"/>
<path d="M208.0 245.7C207.1 246.7 203.8 251.0 202.0 252.5C200.2 254.0 198.2 254.7 196.0 255.5C193.8 256.3 189.3 256.4 187.8 257.8C186.3 259.2 186.8 262.7 186.2 264.5C185.6 266.3 184.4 268.0 184.2 269.5C184.0 271.0 185.2 272.6 185.0 274.0C184.8 275.4 183.1 277.8 182.7 278.5"/>
<path d="M72.7 256.2C74.0 257.2 78.8 261.2 81.0 263.0C83.2 264.8 84.7 267.2 87.0 268.2C89.3 269.2 94.2 269.0 96.0 269.8C97.8 270.6 97.8 273.3 99.0 273.5C100.2 273.7 102.1 271.2 103.5 271.2C104.9 271.2 106.4 273.4 108.0 273.5C109.6 273.6 111.9 272.5 114.0 272.0C116.1 271.5 119.7 270.8 121.5 270.5C123.3 270.2 125.1 269.1 126.0 269.8C126.9 270.5 126.3 273.7 127.5 275.0C128.7 276.3 131.9 277.3 133.5 278.0C135.1 278.7 136.4 279.7 138.0 279.5C139.6 279.3 141.6 277.2 144.0 276.5C146.4 275.8 150.9 274.8 153.5 274.8C156.1 274.8 158.9 275.3 161.0 276.2C163.1 277.1 165.2 279.8 167.0 280.8C168.8 281.8 171.2 283.1 173.0 283.0C174.8 282.9 177.5 280.7 179.0 280.0C180.5 279.3 182.1 278.7 182.7 278.5"/>
<path d="M182.7 278.5C182.8 279.7 182.7 283.9 183.5 286.0C184.3 288.1 186.6 290.6 188.0 292.0C189.4 293.4 192.5 294.1 192.5 295.0C192.5 295.9 188.9 296.4 188.0 298.0C187.1 299.6 186.7 304.3 186.5 305.5"/>
<path d="M186.5 305.5C185.3 305.5 180.6 304.9 179.0 305.5C177.4 306.1 177.4 308.5 176.0 309.2C174.6 309.9 171.6 310.3 170.0 310.0C168.4 309.7 167.1 306.7 165.5 307.0C163.9 307.3 160.7 310.6 159.5 312.2C158.3 313.8 159.2 317.3 158.0 317.5C156.8 317.7 153.4 314.8 152.0 313.8C150.6 312.8 150.4 310.8 149.0 310.8C147.6 310.8 144.8 313.7 143.0 313.8C141.2 313.9 139.1 312.1 137.0 311.5C134.9 310.9 131.1 309.8 129.5 310.0C127.9 310.2 127.2 311.7 126.5 313.0C125.8 314.3 126.2 316.8 125.0 318.2C123.8 319.6 119.7 320.5 119.0 322.0C118.3 323.5 119.8 326.4 120.5 328.0C121.2 329.6 123.1 330.7 123.5 332.5C123.9 334.3 123.3 338.2 122.8 340.0C122.3 341.8 120.9 343.6 120.5 344.2"/>
<path d="M186.5 305.5C187.3 306.2 190.2 308.8 191.8 310.0C193.4 311.2 195.7 311.6 197.0 313.0C198.3 314.4 199.1 317.2 200.0 319.0C200.9 320.8 203.0 323.2 203.0 325.0C203.0 326.8 199.9 329.2 200.0 331.0C200.1 332.8 203.6 335.6 203.8 337.0C204.0 338.4 201.9 339.4 201.6 339.8"/>
<path d="M201.6 339.8C203.6 339.3 211.1 336.5 214.5 336.5C217.9 336.5 220.0 339.4 223.5 339.5C227.0 339.6 233.5 338.0 237.0 337.2C240.5 336.4 242.8 334.8 246.0 334.2C249.2 333.6 255.5 333.5 258.0 333.5C260.5 333.5 261.8 333.9 262.5 334.0"/>
<path d="M263.0 323.0C262.8 324.1 261.6 328.3 261.5 330.0C261.4 331.7 262.3 333.4 262.5 334.0"/>
<path d="M201.6 339.8C200.7 340.4 197.1 342.7 196.0 344.0C194.9 345.3 194.0 347.5 194.5 348.5C195.0 349.5 198.3 349.9 199.0 350.8C199.7 351.7 199.0 353.9 199.0 354.5"/>
<path d="M156.2 394.2C157.0 394.1 160.2 394.0 161.5 393.5C162.8 393.0 164.4 392.2 164.5 391.2C164.6 390.2 162.0 388.3 162.2 386.8C162.4 385.3 165.0 383.0 166.0 381.5C167.0 380.0 167.6 377.6 169.0 377.0C170.4 376.4 173.2 377.3 175.0 377.8C176.8 378.3 179.4 380.8 181.0 380.0C182.6 379.2 184.1 374.8 185.5 372.5C186.9 370.2 188.4 367.5 190.0 365.0C191.6 362.5 194.6 357.6 196.0 356.0C197.4 354.4 198.5 354.7 199.0 354.5"/>
<path d="M199.0 354.5C200.0 355.0 203.6 356.1 205.5 357.5C207.4 358.9 210.1 361.4 211.5 363.5C212.9 365.6 213.1 368.7 214.5 371.0C215.9 373.3 217.7 376.2 220.5 378.5C223.3 380.8 228.8 383.9 232.5 386.0C236.2 388.1 241.4 389.8 244.5 392.0C247.6 394.2 251.3 398.8 252.5 400.0"/>
<path d="M221.7 437.5C222.5 436.3 225.8 432.1 227.0 430.0C228.2 427.9 227.8 426.1 229.2 424.0C230.6 421.9 234.8 418.3 236.0 416.5C237.2 414.7 237.0 413.2 236.8 412.0C236.6 410.8 233.9 410.4 234.5 409.0C235.1 407.6 237.7 404.4 240.5 403.0C243.3 401.6 250.7 400.5 252.5 400.0"/>
<path d="M252.5 400.0C253.7 399.4 257.7 396.8 260.0 396.2C262.3 395.6 265.8 396.8 267.5 395.8C269.2 394.8 270.4 390.9 271.2 389.5C272.0 388.1 272.3 387.1 272.5 386.7"/>
<path d="M262.5 334.0C263.7 334.3 267.6 335.6 270.0 335.8C272.4 336.0 277.2 333.7 278.2 335.0C279.2 336.3 276.9 341.4 276.8 344.0C276.7 346.6 278.0 349.4 277.5 352.2C277.0 355.0 274.5 358.9 273.8 362.0C273.1 365.1 273.2 369.3 273.0 372.5C272.8 375.7 272.3 380.8 272.2 383.0C272.1 385.2 272.5 386.1 272.5 386.7"/>
<path d="M272.5 386.7C273.1 387.5 275.0 390.3 276.2 392.0C277.4 393.7 279.2 396.1 280.0 398.0C280.8 399.9 281.0 403.3 281.2 404.3"/>
<path d="M281.2 404.3C281.7 405.4 283.1 409.5 284.5 411.5C285.9 413.5 288.7 415.7 290.5 417.5C292.3 419.3 294.7 421.8 296.5 423.5C298.3 425.2 301.1 427.4 302.5 428.8C303.9 430.2 305.4 431.0 305.5 432.5C305.6 434.0 303.9 436.9 303.2 438.5C302.5 440.1 300.5 441.6 301.0 443.0C301.5 444.4 305.7 446.0 306.2 447.5C306.7 449.0 304.2 451.2 304.0 452.8C303.8 454.4 305.4 456.3 304.8 458.0C304.2 459.7 301.2 462.2 300.2 464.0C299.2 465.8 298.6 468.6 298.0 470.0C297.4 471.4 296.7 472.5 296.5 473.0"/>
<path d="M320.5 376.2C320.0 375.5 318.7 371.7 317.5 371.8C316.3 371.9 314.5 375.3 313.0 377.0C311.5 378.7 308.5 380.9 307.8 383.0C307.1 385.1 308.2 388.2 308.5 390.5C308.8 392.8 310.7 396.4 310.0 398.0C309.3 399.6 305.8 400.4 304.0 401.0C302.2 401.6 299.6 401.1 298.0 401.8C296.4 402.5 294.9 405.3 293.5 405.5C292.1 405.7 290.7 403.3 289.0 403.2C287.3 403.1 283.4 404.6 282.2 404.8C281.0 405.0 281.4 404.4 281.2 404.3"/>
<path d="M326.0 313.5C325.4 316.8 322.8 329.8 322.3 335.0C321.8 340.2 322.8 343.3 322.8 347.0C322.8 350.7 322.0 355.8 322.0 359.0C322.0 362.2 323.0 365.4 322.8 368.0C322.6 370.6 320.9 374.9 320.5 376.2"/>
<path d="M263.0 323.0C264.4 322.5 269.2 320.5 272.0 319.5C274.8 318.5 277.8 316.9 281.0 316.5C284.2 316.1 289.3 317.6 293.0 317.2C296.7 316.8 301.3 314.9 305.0 314.2C308.7 313.5 313.8 312.9 317.0 312.8C320.2 312.7 324.6 313.4 326.0 313.5"/>
<path d="M326.0 313.5C326.8 313.3 329.5 312.4 331.0 312.2C332.5 312.0 335.1 312.2 335.8 312.2"/>
<path d="M349.2 272.0C348.9 272.9 349.0 276.2 347.5 277.8C346.0 279.4 340.7 280.5 339.2 282.2C337.7 283.9 338.7 287.0 337.8 289.0C336.9 291.0 333.7 292.7 333.2 295.0C332.7 297.3 334.4 301.4 334.8 304.0C335.2 306.6 335.6 310.9 335.8 312.2"/>
<path d="M335.8 312.2C337.6 312.2 343.9 312.0 347.5 312.2C351.1 312.4 356.6 313.2 359.5 313.8C362.4 314.4 364.6 315.1 366.2 316.0C367.8 316.9 368.7 318.4 370.0 319.8C371.3 321.2 373.1 323.5 374.5 325.0C375.9 326.5 378.3 328.8 379.0 329.5"/>
<path d="M379.0 329.5C379.7 329.4 382.3 329.8 383.5 328.8C384.7 327.8 386.1 324.1 386.6 323.2"/>
<path d="M386.6 323.2C387.7 323.0 391.5 322.3 394.0 322.0C396.5 321.7 400.7 321.1 403.0 321.2C405.3 321.3 407.4 322.2 409.0 322.8C410.6 323.4 412.1 325.4 413.5 325.0C414.9 324.6 416.4 321.5 418.0 320.5C419.6 319.5 422.5 318.0 424.0 318.2C425.5 318.4 427.0 321.2 427.5 321.7"/>
<path d="M427.5 321.7L429.0 314.2"/>
<path d="M386.0 268.0C387.0 268.9 391.3 271.7 392.5 274.0C393.7 276.3 393.1 280.2 394.0 283.0C394.9 285.8 397.1 289.8 398.5 292.0C399.9 294.2 400.9 296.0 403.0 297.2C405.1 298.4 409.2 298.2 412.0 299.5C414.8 300.8 418.4 303.2 421.0 305.5C423.6 307.8 427.8 312.9 429.0 314.2"/>
<path d="M429.0 314.2C429.5 314.1 430.8 314.3 432.0 313.5C433.2 312.7 435.3 309.8 436.5 309.3C437.7 308.8 437.9 311.0 439.5 310.5C441.1 310.0 445.4 308.1 447.0 306.0C448.6 303.9 449.5 298.4 450.0 297.0"/>
<path d="M449.5 268.0C449.7 269.2 451.0 273.4 451.0 275.5C451.0 277.6 449.9 281.0 449.5 281.5C449.1 282.0 448.4 277.8 448.5 279.0C448.6 280.2 449.8 286.7 450.0 289.5C450.2 292.3 450.0 295.8 450.0 297.0"/>
<path d="M450.0 297.0C450.7 297.7 452.9 299.9 454.5 301.5C456.1 303.1 458.2 306.0 460.5 307.5C462.8 309.0 467.4 310.0 469.5 311.2C471.6 312.4 471.9 314.0 474.0 315.0C476.1 316.0 480.7 317.3 483.0 318.0C485.3 318.7 487.2 318.7 489.0 319.5C490.8 320.3 493.2 322.7 495.0 323.2C496.8 323.7 498.7 322.1 501.0 322.5C503.3 322.9 507.5 324.7 510.0 325.5C512.5 326.3 516.3 327.4 517.5 327.7"/>
<path d="M517.5 327.7C518.3 326.9 521.2 324.0 523.0 322.8C524.8 321.6 528.1 320.2 529.0 319.7"/>
<path d="M529.0 319.7C529.9 319.9 532.9 320.6 535.0 321.2C537.1 321.8 539.7 322.8 542.5 323.5C545.3 324.2 550.2 325.7 553.0 325.8C555.8 325.9 559.3 324.4 560.5 324.2"/>
<path d="M560.5 324.2C561.9 323.7 567.7 321.8 569.5 321.2C571.3 320.6 572.0 320.6 572.5 320.5"/>
<path d="M560.5 324.2C560.7 325.0 562.1 327.9 562.0 329.5C561.9 331.1 559.3 333.6 559.8 334.8C560.3 336.0 564.0 335.7 565.0 337.0C566.0 338.3 565.6 341.4 566.5 343.0C567.4 344.6 570.4 345.7 571.0 347.5C571.6 349.3 570.7 352.9 570.2 355.0C569.7 357.1 568.2 358.7 568.0 361.0C567.8 363.3 569.0 367.4 568.8 370.0C568.6 372.6 567.1 376.6 566.8 377.8"/>
<path d="M517.5 327.7C517.5 328.7 518.5 332.3 517.7 334.0C516.9 335.7 513.1 337.1 512.5 338.5C511.9 339.9 514.7 341.9 514.0 343.0C513.3 344.1 509.2 344.1 508.0 345.5C506.8 346.9 505.9 349.8 506.0 352.0C506.1 354.2 508.0 357.5 508.5 360.0C509.0 362.5 509.2 365.5 509.0 368.0C508.8 370.5 507.9 373.8 507.0 376.0C506.1 378.2 503.8 381.2 503.2 382.2"/>
<path d="M503.2 382.2C503.8 381.6 505.3 379.0 507.0 378.5C508.7 378.0 511.7 379.2 514.5 379.2C517.3 379.2 521.8 378.7 525.0 378.5C528.2 378.3 532.5 377.9 535.5 377.8C538.5 377.7 541.5 377.5 544.5 377.8C547.5 378.1 553.4 379.7 555.0 380.0"/>
<path d="M555.0 380.0C555.9 379.9 559.2 379.5 561.0 379.2C562.8 378.9 565.9 378.0 566.8 377.8"/>
<path d="M566.8 377.8C567.7 377.7 571.2 376.7 572.5 377.2C573.8 377.7 574.3 380.2 575.5 381.0C576.7 381.8 578.6 381.6 580.0 382.5C581.4 383.4 582.9 386.1 584.5 387.0C586.1 387.9 588.9 388.6 590.5 388.5C592.1 388.4 593.4 386.4 595.0 386.2C596.6 386.0 598.7 387.2 601.0 387.0C603.3 386.8 608.3 385.3 610.0 384.8C611.7 384.3 611.0 383.5 612.2 384.0C613.4 384.5 616.0 386.7 618.0 388.0C620.0 389.3 623.9 391.6 625.0 392.2"/>
<path d="M555.0 380.0C554.4 380.7 551.2 383.3 551.2 384.5C551.2 385.7 553.4 386.7 555.0 387.5C556.6 388.3 560.5 388.6 561.8 389.8C563.1 391.0 562.4 393.3 563.2 395.0C564.0 396.7 566.1 399.2 567.0 401.0C567.9 402.8 569.4 405.2 569.2 407.0C569.0 408.8 566.4 411.5 565.5 413.0C564.6 414.5 563.6 416.1 563.2 416.7"/>
<path d="M450.5 401.0C451.2 400.8 452.7 399.4 455.0 399.5C457.3 399.6 463.4 400.9 465.5 401.8C467.6 402.7 466.4 405.0 468.5 405.5C470.6 406.0 476.7 405.6 479.0 404.8C481.3 404.0 481.7 400.8 483.5 400.2C485.3 399.6 488.5 401.0 491.0 401.0C493.5 401.0 497.1 400.1 500.0 400.2C502.9 400.3 506.6 401.4 510.0 401.8C513.4 402.2 518.5 402.3 522.0 402.5C525.5 402.7 529.7 402.7 532.5 403.2C535.3 403.7 537.7 404.5 540.0 405.5C542.3 406.5 545.2 408.7 547.5 410.0C549.8 411.3 552.6 412.8 555.0 413.8C557.4 414.8 561.9 416.3 563.2 416.7"/>
<path d="M563.2 416.7C562.6 417.4 561.2 420.0 559.5 421.2C557.8 422.4 554.5 423.4 552.0 424.2C549.5 425.0 545.5 425.9 543.0 426.5C540.5 427.1 537.3 427.3 535.5 428.0C533.7 428.7 532.6 430.1 531.0 431.0C529.4 431.9 527.4 433.2 525.0 434.0C522.6 434.8 517.0 436.0 515.5 436.4"/>
<path d="M462.0 376.2C463.2 376.4 467.4 377.4 470.0 377.8C472.6 378.2 476.2 378.3 479.0 378.5C481.8 378.7 485.2 379.0 488.0 379.2C490.8 379.4 494.7 379.5 497.0 380.0C499.3 380.5 502.2 381.9 503.2 382.2"/>
<path d="M427.5 321.7C428.0 322.6 429.5 326.1 431.0 327.5C432.5 328.9 435.8 329.1 437.0 330.5C438.2 331.9 438.0 334.7 438.5 336.5C439.0 338.3 438.8 341.1 440.0 342.5C441.2 343.9 444.2 344.6 446.0 345.5C447.8 346.4 450.6 347.1 452.0 348.5C453.4 349.9 454.1 352.7 455.0 354.5C455.9 356.3 456.8 358.9 458.0 360.5C459.2 362.1 461.3 363.8 462.5 365.0C463.7 366.2 465.7 367.1 465.5 368.0C465.3 368.9 461.5 369.7 461.0 371.0C460.5 372.3 461.8 375.4 462.0 376.2"/>
<path d="M441.5 386.0C442.4 385.3 445.4 382.5 447.5 381.5C449.6 380.5 452.8 380.0 455.0 379.2C457.2 378.4 460.9 376.7 462.0 376.2"/>
<path d="M423.5 386.7C424.0 386.4 424.9 385.0 426.5 384.5C428.1 384.0 431.9 383.5 434.0 383.7C436.1 383.9 438.8 385.1 440.0 385.5C441.2 385.9 441.3 385.9 441.5 386.0"/>
<path d="M441.5 386.0C441.8 386.7 443.0 389.1 443.7 390.5C444.4 391.9 445.0 393.4 446.0 395.0C447.0 396.6 449.8 400.1 450.5 401.0"/>
<path d="M450.5 401.0C450.0 401.7 447.7 404.1 447.5 405.5C447.3 406.9 449.5 409.1 449.0 410.0C448.5 410.9 445.4 410.3 444.5 411.5C443.6 412.7 443.2 416.6 443.0 417.5"/>
<path d="M443.0 417.5C442.1 417.8 438.8 419.4 437.0 419.7C435.2 420.0 432.8 419.9 431.0 419.7C429.2 419.5 426.3 419.5 425.0 418.2C423.7 416.9 423.3 413.7 422.7 411.5C422.1 409.3 421.5 405.6 421.2 404.0C420.9 402.4 420.9 401.5 420.8 401.0"/>
<path d="M420.8 401.0C420.6 400.5 419.6 399.4 419.7 398.0C419.8 396.6 420.6 393.7 421.2 392.0C421.8 390.3 423.1 387.5 423.5 386.7"/>
<path d="M386.6 323.2C387.1 324.8 388.7 331.2 389.8 333.5C390.9 335.8 392.7 336.2 393.5 338.0C394.3 339.8 393.8 343.4 395.0 345.5C396.2 347.6 399.7 349.4 401.0 351.5C402.3 353.6 402.3 357.2 403.2 359.0C404.1 360.8 405.7 362.1 407.0 363.5C408.3 364.9 410.7 366.4 411.5 368.0C412.3 369.6 411.5 372.4 412.2 374.0C412.9 375.6 414.5 377.1 416.0 378.5C417.5 379.9 420.8 381.7 422.0 383.0C423.2 384.3 423.3 386.1 423.5 386.7"/>
<path d="M379.0 329.5C378.7 330.6 378.0 334.3 377.0 336.5C376.0 338.7 373.9 342.2 372.5 344.0C371.1 345.8 368.9 347.0 368.0 348.5C367.1 350.0 366.3 352.1 366.5 353.8C366.7 355.5 369.3 357.6 369.5 359.8C369.7 362.0 368.0 365.4 368.0 368.0C368.0 370.6 369.2 374.2 369.5 377.0C369.8 379.8 370.3 383.9 370.2 386.0C370.1 388.1 368.6 389.1 368.8 390.5C369.0 391.9 370.6 393.5 371.7 395.0C372.8 396.5 375.7 397.8 376.2 400.0C376.7 402.2 374.9 407.6 374.7 409.0"/>
<path d="M374.7 409.0C375.3 408.8 377.0 408.5 378.5 407.5C380.0 406.5 382.8 402.7 384.5 402.2C386.2 401.7 388.9 403.9 389.7 404.2"/>
<path d="M389.7 404.2C391.0 403.8 395.6 402.3 398.0 401.5C400.4 400.7 403.7 399.4 405.5 399.2C407.3 399.0 408.4 399.5 410.0 400.0C411.6 400.5 414.3 402.0 416.0 402.2C417.7 402.4 420.1 401.2 420.8 401.0"/>
<path d="M389.7 404.2C389.5 405.9 387.8 412.4 388.2 415.0C388.6 417.6 390.0 419.6 392.0 421.0C394.0 422.4 399.2 422.6 401.0 424.0C402.8 425.4 403.8 429.0 404.0 430.0C404.2 431.0 403.2 429.0 402.5 430.5C401.8 432.0 399.7 436.5 399.5 439.5C399.3 442.5 400.9 447.2 401.0 450.0C401.1 452.8 400.0 455.2 400.2 457.5C400.4 459.8 401.9 462.4 402.5 465.0C403.1 467.6 403.8 473.2 404.0 474.7"/>
<path d="M374.7 409.0C373.2 409.5 368.1 411.2 365.0 412.0C361.9 412.8 357.5 413.7 354.5 414.2C351.5 414.7 347.0 414.9 345.6 415.0"/>
<path d="M320.5 376.2C321.2 375.6 323.8 372.1 325.0 372.5C326.2 372.9 326.8 376.9 328.0 378.5C329.2 380.1 330.9 382.0 332.5 383.0C334.1 384.0 337.8 383.8 338.5 385.2C339.2 386.6 337.0 389.8 337.0 392.0C337.0 394.2 338.0 397.2 338.5 399.5C339.0 401.8 339.6 404.8 340.0 407.0C340.4 409.2 339.9 412.6 340.8 413.8C341.7 415.0 344.9 414.8 345.6 415.0"/>
<path d="M345.6 415.0C345.5 417.2 344.8 425.2 344.8 429.0C344.8 432.8 346.3 437.4 345.5 439.5C344.7 441.6 342.0 441.3 339.5 442.5C337.0 443.7 330.4 445.2 329.0 447.0C327.6 448.8 329.3 452.2 330.5 454.5C331.7 456.8 335.1 460.3 336.5 462.0C337.9 463.7 340.0 464.4 339.5 465.8C339.0 467.2 334.5 470.3 333.5 471.0C332.5 471.7 333.3 470.6 333.3 470.5"/>
<path d="M443.0 417.5C443.7 418.2 445.9 420.6 447.5 422.0C449.1 423.4 451.7 425.1 453.5 426.5C455.3 427.9 458.3 429.8 459.5 431.0C460.7 432.2 461.5 433.1 461.0 434.0C460.5 434.9 457.0 435.8 456.5 437.0C456.0 438.2 457.9 440.3 458.0 441.5C458.1 442.7 457.3 444.0 457.2 444.5"/>
</g>
<g fill="#fff" stroke="#7d8780" stroke-width="1.4" stroke-linejoin="round">
<path d="M627.0 356.2C628.4 356.0 631.6 357.1 633.0 357.7C634.4 358.3 636.0 359.0 636.0 360.0C636.0 361.0 633.5 363.1 633.0 364.5C632.5 365.9 632.5 367.8 633.0 369.0C633.5 370.2 635.1 371.2 636.0 372.0C636.9 372.8 639.2 373.4 639.0 374.2C638.8 375.0 636.1 376.4 634.5 377.2C632.9 378.0 629.9 379.8 628.5 379.5C627.1 379.2 626.4 376.2 625.5 375.0C624.6 373.8 623.4 373.2 622.5 372.0C621.6 370.8 619.9 369.1 619.5 367.5C619.1 365.9 619.5 362.8 620.2 361.5C620.9 360.2 623.0 360.0 624.0 359.2C625.0 358.4 625.6 356.4 627.0 356.2Z"/>
<path d="M611.5 383.2C612.0 382.7 613.9 383.1 616.0 382.5C618.1 381.9 622.9 379.7 625.0 379.5C627.1 379.3 630.0 380.0 629.5 381.0C629.0 382.0 623.8 384.8 622.0 386.2C620.2 387.6 618.7 389.6 617.5 390.0C616.3 390.4 615.2 389.2 614.5 388.5C613.8 387.8 613.5 386.3 613.0 385.5C612.5 384.7 611.0 383.7 611.5 383.2Z"/>
<path d="M614.5 392.2C615.7 391.0 618.4 389.9 620.5 389.2C622.6 388.5 627.3 387.7 628.0 387.8C628.7 387.9 625.9 389.0 625.0 390.0C624.1 391.0 623.4 393.3 622.0 394.5C620.6 395.7 617.4 397.1 616.0 397.5C614.6 397.9 613.2 397.6 613.0 396.8C612.8 396.0 613.3 393.4 614.5 392.2Z"/>
</g>
<g class="lbl" text-anchor="middle">
<text x="206.3" y="134.0">SM</text><text x="206.3" y="150.7">81,5%</text>
<text x="231.0" y="175.0">SJ</text><text x="232.5" y="191.5">75,2%</text>
<text x="169.0" y="195.5">BH</text><text x="169.0" y="212.0">82,5%</text>
<text x="277.5" y="135.5">MM</text><text x="277.5" y="153.0">77,5%</text>
<text x="321.0" y="170.0">BN</text><text x="322.0" y="187.0">84,8%</text>
<text x="403.0" y="140.0">SV</text><text x="403.0" y="156.5">82,4%</text>
<text x="436.0" y="191.0">NT</text><text x="436.0" y="207.5">81,5%</text>
<text x="468.0" y="113.7">BT</text><text x="468.7" y="130.3">78,5%</text>
<text x="498.7" y="166.0">IS</text><text x="498.7" y="182.5">84,2%</text>
<text x="143.0" y="245.5">AR</text><text x="143.0" y="262.5">77,8%</text>
<text x="103.0" y="294.5">TM</text><text x="103.0" y="311.0">78,1%</text>
<text x="257.5" y="208.7">CJ</text><text x="257.5" y="226.0">88,9%</text>
<text x="250.0" y="254.5">AB</text><text x="258.7" y="271.0">85,3%</text>
<text x="325.0" y="231.0">MS</text><text x="325.0" y="248.0">76,9%</text>
<text x="390.5" y="227.0">HR</text><text x="390.5" y="244.0">63,5%</text>
<text x="303.7" y="289.5">SB</text><text x="303.7" y="306.0">85,9%</text>
<text x="370.0" y="289.5">BV</text><text x="369.0" y="306.0">87,4%</text>
<text x="217.5" y="295.5">HD</text><text x="216.5" y="312.0">80,7%</text>
<text x="473.0" y="237.5">BC</text><text x="472.5" y="254.5">87,0%</text>
<text x="544.0" y="228.0">VS</text><text x="541.5" y="244.5">79,9%</text>
<text x="428.0" y="282.0">CV</text><text x="428.0" y="298.7">73,6%</text>
<text x="485.0" y="289.5">VN</text><text x="484.0" y="306.0">79,5%</text>
<text x="550.0" y="286.0">GL</text><text x="550.0" y="303.0">88,5%</text>
<text x="477.0" y="333.7">BZ</text><text x="475.5" y="351.0">83,6%</text>
<text x="158.7" y="346.0">CS</text><text x="157.5" y="363.0">77,1%</text>
<text x="245.5" y="358.7">GJ</text><text x="245.5" y="375.5">76,6%</text>
<text x="216.0" y="396.0">MH</text><text x="215.5" y="413.0">68,6%</text>
<text x="298.7" y="350.5">VL</text><text x="298.7" y="367.5">81,1%</text>
<text x="344.0" y="352.0">AG</text><text x="344.5" y="368.7">83,4%</text>
<text x="388.0" y="375.0">DB</text><text x="388.7" y="392.0">77,5%</text>
<text x="425.0" y="347.5">PH</text><text x="424.0" y="364.5">82,6%</text>
<text x="323.7" y="415.0">OT</text><text x="323.7" y="431.0">75,4%</text>
<text x="263.7" y="430.0">DJ</text><text x="262.5" y="446.0">80,4%</text>
<text x="370.0" y="442.0">TR</text><text x="368.7" y="458.0">69,3%</text>
<text x="420.0" y="433.0">GR</text><text x="420.0" y="450.0">67,0%</text>
<text x="434.0" y="418.7">IF</text><text x="435.0" y="401.0">61,3%</text>
<text x="540.5" y="345.5">BR</text><text x="540.0" y="362.5">87,5%</text>
<text x="596.7" y="353.0">TL</text><text x="595.5" y="370.0">80,7%</text>
<text x="493.0" y="416.0">CL</text><text x="492.0" y="433.0">75,0%</text>
<text x="582.5" y="420.0">CT</text><text x="582.0" y="437.0">80,1%</text>
<text x="511" y="395.5">IL 77,2%</text>
</g>
<g stroke-linejoin="round">
<polygon points="626.5,165.0 625.0,156.0 628.0,155.2 630.2,157.5 638.5,146.2 642.2,145.5 646.0,138.0 650.5,138.8 655.0,135.0 659.5,134.2 664.8,131.2 668.5,129.0 673.0,130.5 679.0,129.0 682.0,129.8 682.8,142.5 683.5,150.0 685.0,152.2 685.3,159.5 682.0,165.0 682.0,172.5 680.5,180.0 681.2,186.0 680.5,192.7 670.7,190.8 670.0,187.5 667.0,181.5 662.5,176.2 656.5,171.0 649.0,167.2 641.5,165.0 632.5,165.0" fill="#1cb556" stroke="#1cb556" stroke-width="0.5"/>
<polygon points="685.3,159.5 700.0,163.5 716.5,166.5 712.0,172.5 707.5,178.5 713.5,179.2 718.0,183.8 721.8,185.2 722.5,180.8 724.8,183.8 728.5,186.8 730.0,183.8 732.2,187.5 736.0,188.8 733.0,187.5 724.0,187.5 715.0,189.8 704.5,192.8 692.5,194.2 680.5,192.7 681.2,186.0 680.5,180.0 682.0,172.5 682.0,165.0" fill="#11b152" stroke="#11b152" stroke-width="0.5"/>
<polygon points="736.0,188.8 739.8,186.8 740.5,189.8 744.2,190.5 743.5,195.0 739.0,196.5 739.8,200.2 736.0,203.2 736.8,207.0 731.5,210.0 728.5,213.8 719.5,213.8 712.0,211.5 707.8,210.8 700.0,208.5 691.0,206.2 685.0,198.0 680.5,192.7 692.5,194.2 704.5,192.8 715.0,189.8 724.0,187.5 733.0,187.5" fill="#30bd5f" stroke="#30bd5f" stroke-width="0.5"/>
<polygon points="707.8,210.8 706.0,218.5 703.0,224.5 701.5,230.5 706.0,236.5 709.0,242.5 712.8,244.8 710.5,248.5 706.0,250.0 700.0,249.2 697.8,245.5 695.5,239.5 689.5,235.0 683.5,233.5 676.0,229.7 676.8,220.0 678.2,211.0 675.2,205.0 677.5,199.0 680.5,192.7 685.0,198.0 691.0,206.2 700.0,208.5" fill="#0caf50" stroke="#0caf50" stroke-width="0.5"/>
<polygon points="629.5,207.2 640.0,211.0 646.0,217.0 652.0,223.0 661.0,225.2 670.0,227.5 676.0,229.7 676.8,220.0 678.2,211.0 675.2,205.0 677.5,199.0 680.5,192.7 670.7,190.8 665.5,192.2 662.5,195.2 661.0,202.3 652.0,203.5 640.0,205.8" fill="#3ac264" stroke="#3ac264" stroke-width="0.5"/>
<polygon points="626.5,165.0 624.2,172.5 632.5,177.0 642.2,180.0 640.8,186.2 629.5,187.8 619.0,190.0 616.8,194.5 619.8,199.0 616.8,202.8 622.0,205.8 629.5,207.2 640.0,205.8 652.0,203.5 661.0,202.3 662.5,195.2 665.5,192.2 670.7,190.8 670.0,187.5 667.0,181.5 662.5,176.2 656.5,171.0 649.0,167.2 641.5,165.0 632.5,165.0" fill="#42c567" stroke="#42c567" stroke-width="0.5"/>
</g><g fill="none" stroke="#9aa89c" stroke-width="0.8" stroke-linejoin="round" stroke-linecap="round">
<polyline points="626.5,165.0 625.0,156.0 628.0,155.2 630.2,157.5 638.5,146.2 642.2,145.5 646.0,138.0 650.5,138.8 655.0,135.0 659.5,134.2 664.8,131.2 668.5,129.0 673.0,130.5 679.0,129.0 682.0,129.8 682.8,142.5 683.5,150.0 685.0,152.2 685.3,159.5"/>
<polyline points="685.3,159.5 700.0,163.5 716.5,166.5 712.0,172.5 707.5,178.5 713.5,179.2 718.0,183.8 721.8,185.2 722.5,180.8 724.8,183.8 728.5,186.8 730.0,183.8 732.2,187.5 736.0,188.8"/>
<polyline points="736.0,188.8 739.8,186.8 740.5,189.8 744.2,190.5 743.5,195.0 739.0,196.5 739.8,200.2 736.0,203.2 736.8,207.0 731.5,210.0 728.5,213.8 719.5,213.8 712.0,211.5 707.8,210.8"/>
<polyline points="707.8,210.8 706.0,218.5 703.0,224.5 701.5,230.5 706.0,236.5 709.0,242.5 712.8,244.8 710.5,248.5 706.0,250.0 700.0,249.2 697.8,245.5 695.5,239.5 689.5,235.0 683.5,233.5 676.0,229.7"/>
<polyline points="629.5,207.2 640.0,211.0 646.0,217.0 652.0,223.0 661.0,225.2 670.0,227.5 676.0,229.7"/>
<polyline points="626.5,165.0 624.2,172.5 632.5,177.0 642.2,180.0 640.8,186.2 629.5,187.8 619.0,190.0 616.8,194.5 619.8,199.0 616.8,202.8 622.0,205.8 629.5,207.2"/>
</g><g fill="none" stroke="#7d8780" stroke-width="1.2" stroke-linejoin="round" stroke-linecap="round">
<polyline points="685.3,159.5 682.0,165.0 682.0,172.5 680.5,180.0 681.2,186.0 680.5,192.7"/>
<polyline points="680.5,192.7 670.7,190.8"/>
<polyline points="670.7,190.8 670.0,187.5 667.0,181.5 662.5,176.2 656.5,171.0 649.0,167.2 641.5,165.0 632.5,165.0 626.5,165.0"/>
<polyline points="670.7,190.8 665.5,192.2 662.5,195.2 661.0,202.3 652.0,203.5 640.0,205.8 629.5,207.2"/>
<polyline points="676.0,229.7 676.8,220.0 678.2,211.0 675.2,205.0 677.5,199.0 680.5,192.7"/>
<polyline points="680.5,192.7 685.0,198.0 691.0,206.2 700.0,208.5 707.8,210.8"/>
<polyline points="680.5,192.7 692.5,194.2 704.5,192.8 715.0,189.8 724.0,187.5 733.0,187.5 736.0,188.8"/>
</g><g class="blk" text-anchor="middle">
<text x="673.0" y="92.5">București</text>
<text x="673.0" y="109.5">(87,3%)</text>
<text x="643.0" y="132.5">88,6%</text>
<text x="736.0" y="163.0">90,3%</text>
<text x="598.5" y="188.7">82,4%</text>
<text x="757.2" y="222.5">85,3%</text>
<text x="636.0" y="238.7">83,6%</text>
<text x="714.7" y="266.2">91,0%</text>
<text x="662.5" y="159.5">1</text>
<text x="695.8" y="181.8">2</text>
<text x="716.0" y="204.7">3</text>
<text x="690.2" y="223.7">4</text>
<text x="662.8" y="218.5">5</text>
<text x="650.8" y="190.7">6</text>
</g>
</svg>
<div class="bar"></div>
<div class="lg l">Rată de promovare relativ mică</div>
<div class="lg r">Rată de promovare relativ mare</div>
</body></html>
